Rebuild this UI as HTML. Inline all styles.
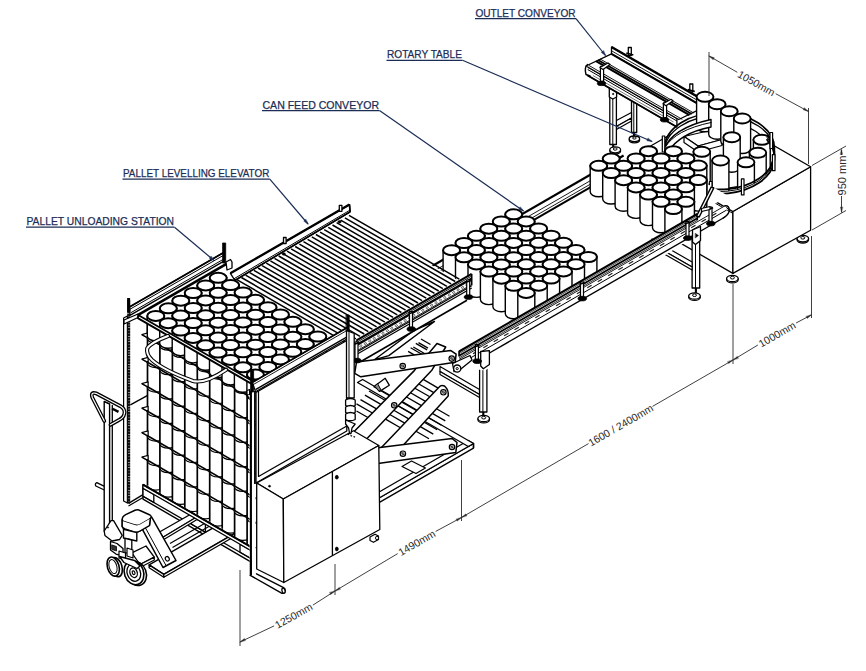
<!DOCTYPE html>
<html><head><meta charset="utf-8"><title>Depalletizer layout</title>
<style>html,body{margin:0;padding:0;background:#fff;}svg{display:block;font-family:"Liberation Sans",sans-serif;}</style></head>
<body>
<svg width="866" height="671" viewBox="0 0 866 671">
<rect width="866" height="671" fill="#fff"/>
<path d="M631.5,97 L636.7,97 L636.7,132.5 L631.5,132.5 Z" stroke="#000" stroke-width="1.3" fill="#fff" stroke-linejoin="round" stroke-linecap="round"/>
<path d="M633.8,97 L633.8,132.5" stroke="#000" stroke-width="1" fill="none"/>
<path d="M634,132.5 L634,137" stroke="#000" stroke-width="2.1" fill="none"/>
<ellipse cx="634.4" cy="140" rx="5.2" ry="2.8" stroke="#000" stroke-width="1.3" fill="#fff"/>
<ellipse cx="634.4" cy="138.8" rx="5.2" ry="2.8" stroke="#000" stroke-width="1.3" fill="#fff"/>
<ellipse cx="634.4" cy="138" rx="1.8" ry="1.1" stroke="#000" stroke-width="1" fill="#fff"/>
<path d="M616.4,120.5 L631.5,112.5 L631.5,118 L616.4,126.5 Z" stroke="#000" stroke-width="1.2" fill="#fff" stroke-linejoin="round" stroke-linecap="round"/>
<path d="M616.4,126.5 L631.5,118 L631.5,121 L616.4,129.5 Z" stroke="#000" stroke-width="1.2" fill="#fff" stroke-linejoin="round" stroke-linecap="round"/>
<path d="M609.8,84 L616.4,84 L616.4,144.5 L609.8,144.5 Z" stroke="#000" stroke-width="1.3" fill="#fff" stroke-linejoin="round" stroke-linecap="round"/>
<path d="M612.8,84 L612.8,144.5" stroke="#000" stroke-width="1" fill="none"/>
<path d="M613.2,144.5 L613.2,148" stroke="#000" stroke-width="2.1" fill="none"/>
<ellipse cx="615.2" cy="151" rx="5.4" ry="3" stroke="#000" stroke-width="1.3" fill="#fff"/>
<ellipse cx="615.2" cy="149.8" rx="5.4" ry="3" stroke="#000" stroke-width="1.3" fill="#fff"/>
<ellipse cx="615.2" cy="149" rx="1.9" ry="1.2" stroke="#000" stroke-width="1" fill="#fff"/>
<path d="M609.3,83 L616.6,85.5 L616.6,97 L612.8,99 L609.3,97 Z" stroke="#000" stroke-width="1.3" fill="#fff" stroke-linejoin="round" stroke-linecap="round"/>
<ellipse cx="613.2" cy="94" rx="0.7" ry="0.7" stroke="#000" stroke-width="0.7" fill="#000"/>
<path d="M587.7,67 L676.9,118.5 L676.9,127 L587.7,75.5 Z" stroke="#000" stroke-width="1.3" fill="#fff" stroke-linejoin="round" stroke-linecap="round"/>
<path d="M587.5,64.5 Q584,67 586,74.5 L590,76" stroke="#000" stroke-width="1.4" fill="#fff" stroke-linejoin="round" stroke-linecap="round"/>
<path d="M586,66 L611.5,53.8 L704.2,107.2 L678.7,119.5 Z" stroke="#000" stroke-width="1.3" fill="#fff" stroke-linejoin="round" stroke-linecap="round"/>
<path d="M588.8,65.4 L682.3,119.4" stroke="#000" stroke-width="0.9" fill="none"/>
<path d="M596,61.2 L689.5,115.2" stroke="#000" stroke-width="2" fill="none"/>
<path d="M598.1,60 L691.7,114" stroke="#000" stroke-width="1.8" fill="none"/>
<path d="M600,58.9 L693.6,112.9" stroke="#000" stroke-width="0.9" fill="none"/>
<path d="M611.5,53.8 L611.5,47 L700.7,98.5 L700.7,105.2 Z" stroke="#000" stroke-width="1.3" fill="#fff" stroke-linejoin="round" stroke-linecap="round"/>
<path d="M611.5,47 L700.7,98.5" stroke="#000" stroke-width="2.5" fill="none"/>
<path d="M611.5,50.8 L700.7,102.2" stroke="#000" stroke-width="0.9" fill="none"/>
<path d="M611.4,53.9 L700.6,105.4" stroke="#000" stroke-width="2.1" fill="none"/>
<path d="M587.7,69.5 L676.9,121" stroke="#000" stroke-width="1" fill="none"/>
<path d="M587.7,75.5 L676.9,127" stroke="#000" stroke-width="1.8" fill="none"/>
<path d="M592.9,75.5 L673.5,122" stroke="#555" stroke-width="0.8" fill="none"/>
<path d="M600.4,66.4 L603.6,66.4 L603.6,81.4 L600.4,81.4 Z" stroke="#000" stroke-width="1.2" fill="#fff" stroke-linejoin="round" stroke-linecap="round"/>
<ellipse cx="601.5" cy="83.4" rx="4.2" ry="2.2" stroke="#000" stroke-width="0.8" fill="#000"/>
<path d="M600,67.4 L608,62.9 L610,64.4 L603,69.4 Z" stroke="#000" stroke-width="1.2" fill="#fff" stroke-linejoin="round" stroke-linecap="round"/>
<path d="M663.4,102.8 L666.6,102.8 L666.6,117.8 L663.4,117.8 Z" stroke="#000" stroke-width="1.2" fill="#fff" stroke-linejoin="round" stroke-linecap="round"/>
<ellipse cx="664.5" cy="119.8" rx="4.2" ry="2.2" stroke="#000" stroke-width="0.8" fill="#000"/>
<path d="M663,103.8 L671,99.3 L673,100.8 L666,105.8 Z" stroke="#000" stroke-width="1.2" fill="#fff" stroke-linejoin="round" stroke-linecap="round"/>
<path d="M628.3,47.5 L631.3,47.5 L631.3,55.5 L628.3,55.5 Z" stroke="#000" stroke-width="1.3" fill="#fff" stroke-linejoin="round" stroke-linecap="round"/>
<path d="M626.3,53 L633.3,55" stroke="#000" stroke-width="1.8" fill="none"/>
<path d="M689.8,84 L692.8,84 L692.8,92 L689.8,92 Z" stroke="#000" stroke-width="1.3" fill="#fff" stroke-linejoin="round" stroke-linecap="round"/>
<path d="M687.8,89.5 L694.8,91.5" stroke="#000" stroke-width="1.8" fill="none"/>
<ellipse cx="802.8" cy="239.8" rx="5.8" ry="3.2" stroke="#000" stroke-width="1.3" fill="#fff"/>
<ellipse cx="802.8" cy="238.6" rx="5.8" ry="3.2" stroke="#000" stroke-width="1.3" fill="#fff"/>
<ellipse cx="802.8" cy="237.8" rx="2" ry="1.3" stroke="#000" stroke-width="1" fill="#fff"/>
<ellipse cx="732.4" cy="279.7" rx="5.8" ry="3.2" stroke="#000" stroke-width="1.3" fill="#fff"/>
<ellipse cx="732.4" cy="278.5" rx="5.8" ry="3.2" stroke="#000" stroke-width="1.3" fill="#fff"/>
<ellipse cx="732.4" cy="277.7" rx="2" ry="1.3" stroke="#000" stroke-width="1" fill="#fff"/>
<path d="M635,155 L732.9,211.5 L732.9,273.4 L635,216.9 Z" stroke="#000" stroke-width="1.3" fill="#fff" stroke-linejoin="round" stroke-linecap="round"/>
<path d="M732.9,211.5 L810.6,166.7 L810.6,230.2 L732.9,273.4 Z" stroke="#000" stroke-width="1.3" fill="#fff" stroke-linejoin="round" stroke-linecap="round"/>
<path d="M635,155 L712.7,110.2 L810.6,166.7 L732.9,211.5 Z" stroke="#000" stroke-width="1.3" fill="#fff" stroke-linejoin="round" stroke-linecap="round"/>
<path d="M732.9,213.4 L698.3,193.4" stroke="#000" stroke-width="1" fill="none"/>
<ellipse cx="719.5" cy="148.5" rx="55" ry="36" stroke="#000" stroke-width="1.6" fill="none"/>
<ellipse cx="719.5" cy="151.5" rx="55" ry="36" stroke="#000" stroke-width="1.3" fill="#fff"/>
<ellipse cx="719.5" cy="155" rx="51" ry="33.5" stroke="#000" stroke-width="1.2" fill="#fff"/>
<path d="M684,136.5 L707.5,131 L722,139.5 L698,146 Z" stroke="#000" stroke-width="1.2" fill="#fff" stroke-linejoin="round" stroke-linecap="round"/>
<path d="M684,136.5 L698,146 L698,152 L684,142.5 Z" stroke="#000" stroke-width="1.2" fill="#fff" stroke-linejoin="round" stroke-linecap="round"/>
<path d="M698,146 L722,139.5 L722,145.5 L698,152 Z" stroke="#000" stroke-width="1.2" fill="#fff" stroke-linejoin="round" stroke-linecap="round"/>
<clipPath id="rc"><rect x="600" y="0" width="266" height="153"/><ellipse cx="719.5" cy="155.5" rx="55" ry="36"/></clipPath><g clip-path="url(#rc)">
<path d="M696.6,96.8 L696.6,126.8 A8.4,5 0 0 0 713.4,126.8 L713.4,96.8 Z" stroke="#000" stroke-width="1.4" fill="#fff"/>
<ellipse cx="705" cy="96.8" rx="8.4" ry="5" stroke="#000" stroke-width="1.9" fill="#fff"/>
<path d="M708.7,104.2 L708.7,134.2 A8.4,5 0 0 0 725.5,134.2 L725.5,104.2 Z" stroke="#000" stroke-width="1.4" fill="#fff"/>
<ellipse cx="717.1" cy="104.2" rx="8.4" ry="5" stroke="#000" stroke-width="1.9" fill="#fff"/>
<path d="M720.8,111.2 L720.8,141.2 A8.4,5 0 0 0 737.6,141.2 L737.6,111.2 Z" stroke="#000" stroke-width="1.4" fill="#fff"/>
<ellipse cx="729.2" cy="111.2" rx="8.4" ry="5" stroke="#000" stroke-width="1.9" fill="#fff"/>
<path d="M733.8,118.5 L733.8,148.5 A8.4,5 0 0 0 750.6,148.5 L750.6,118.5 Z" stroke="#000" stroke-width="1.4" fill="#fff"/>
<ellipse cx="742.2" cy="118.5" rx="8.4" ry="5" stroke="#000" stroke-width="1.9" fill="#fff"/>
<path d="M723.4,137.2 L723.4,167.2 A8.4,5 0 0 0 740.2,167.2 L740.2,137.2 Z" stroke="#000" stroke-width="1.4" fill="#fff"/>
<ellipse cx="731.8" cy="137.2" rx="8.4" ry="5" stroke="#000" stroke-width="1.9" fill="#fff"/>
<path d="M753.4,139.8 L753.4,169.8 A8.4,5 0 0 0 770.2,169.8 L770.2,139.8 Z" stroke="#000" stroke-width="1.4" fill="#fff"/>
<ellipse cx="761.8" cy="139.8" rx="8.4" ry="5" stroke="#000" stroke-width="1.9" fill="#fff"/>
<path d="M693.4,151.8 L693.4,181.8 A8.4,5 0 0 0 710.2,181.8 L710.2,151.8 Z" stroke="#000" stroke-width="1.4" fill="#fff"/>
<ellipse cx="701.8" cy="151.8" rx="8.4" ry="5" stroke="#000" stroke-width="1.9" fill="#fff"/>
<path d="M749.4,152.8 L749.4,182.8 A8.4,5 0 0 0 766.2,182.8 L766.2,152.8 Z" stroke="#000" stroke-width="1.4" fill="#fff"/>
<ellipse cx="757.8" cy="152.8" rx="8.4" ry="5" stroke="#000" stroke-width="1.9" fill="#fff"/>
<path d="M712.1,160.5 L712.1,190.5 A8.4,5 0 0 0 728.9,190.5 L728.9,160.5 Z" stroke="#000" stroke-width="1.4" fill="#fff"/>
<ellipse cx="720.5" cy="160.5" rx="8.4" ry="5" stroke="#000" stroke-width="1.9" fill="#fff"/>
<path d="M737.6,162.3 L737.6,192.3 A8.4,5 0 0 0 754.4,192.3 L754.4,162.3 Z" stroke="#000" stroke-width="1.4" fill="#fff"/>
<ellipse cx="746" cy="162.3" rx="8.4" ry="5" stroke="#000" stroke-width="1.9" fill="#fff"/>
</g>
<path d="M767.1,135.5 A55.0,36.0 0 0 1 693.7,185.3" stroke="#000" stroke-width="1.8" fill="none" stroke-linejoin="round" stroke-linecap="round"/>
<path d="M767.1,137.6 A55.0,36.0 0 0 1 693.7,187.4" stroke="#000" stroke-width="1" fill="none" stroke-linejoin="round" stroke-linecap="round"/>
<path d="M767.1,139.8 A55.0,36.0 0 0 1 693.7,189.6" stroke="#000" stroke-width="1.8" fill="none" stroke-linejoin="round" stroke-linecap="round"/>
<path d="M770,132.5 L772.6,132.5 L772.6,148.5 L770,148.5 Z" stroke="#000" stroke-width="1.2" fill="#fff" stroke-linejoin="round" stroke-linecap="round"/>
<path d="M772.4,154.7 L775,154.7 L775,170.7 L772.4,170.7 Z" stroke="#000" stroke-width="1.2" fill="#fff" stroke-linejoin="round" stroke-linecap="round"/>
<path d="M741.4,178.9 L744,178.9 L744,194.9 L741.4,194.9 Z" stroke="#000" stroke-width="1.2" fill="#fff" stroke-linejoin="round" stroke-linecap="round"/>
<path d="M709.4,181.5 L712,181.5 L712,197.5 L709.4,197.5 Z" stroke="#000" stroke-width="1.2" fill="#fff" stroke-linejoin="round" stroke-linecap="round"/>
<path d="M663.5,150 Q672,128 711,119.5 L711,127 Q680,133 668,152 Z" stroke="#000" stroke-width="1.4" fill="#fff" stroke-linejoin="round" stroke-linecap="round"/>
<path d="M665.5,147 Q675,130 711,122.5" stroke="#000" stroke-width="1" fill="none" stroke-linejoin="round" stroke-linecap="round"/>
<path d="M662.3,136 L664.8,136 L664.8,152 L662.3,152 Z" stroke="#000" stroke-width="1.2" fill="#fff" stroke-linejoin="round" stroke-linecap="round"/>
<path d="M371.6,301 L641,145.5 L728.4,196 L459.1,351.5 Z" stroke="none" stroke-width="0" fill="#fff" stroke-linejoin="round" stroke-linecap="round"/>
<path d="M425.3,270 L623.6,155.5" stroke="#000" stroke-width="2.2" fill="none"/>
<path d="M425.3,276 L623.6,161.5" stroke="#000" stroke-width="0.9" fill="none"/>
<path d="M425.3,279.5 L623.6,165" stroke="#000" stroke-width="0.9" fill="none"/>
<path d="M435.7,276.6 L623.6,168.1" stroke="#000" stroke-width="2.1" fill="none"/>
<path d="M505.2,214.3 L505.2,242.3 A8.5,5 0 0 0 522.2,242.3 L522.2,214.3 Z" stroke="#000" stroke-width="1.4" fill="#fff"/>
<ellipse cx="513.7" cy="214.3" rx="8.5" ry="5" stroke="#000" stroke-width="2" fill="#fff"/>
<path d="M517.7,221.4 L517.7,249.4 A8.5,5 0 0 0 534.7,249.4 L534.7,221.4 Z" stroke="#000" stroke-width="1.4" fill="#fff"/>
<ellipse cx="526.2" cy="221.4" rx="8.5" ry="5" stroke="#000" stroke-width="2" fill="#fff"/>
<path d="M492.8,221.5 L492.8,249.5 A8.5,5 0 0 0 509.8,249.5 L509.8,221.5 Z" stroke="#000" stroke-width="1.4" fill="#fff"/>
<ellipse cx="501.3" cy="221.5" rx="8.5" ry="5" stroke="#000" stroke-width="2" fill="#fff"/>
<path d="M530.1,228.5 L530.1,256.5 A8.5,5 0 0 0 547.1,256.5 L547.1,228.5 Z" stroke="#000" stroke-width="1.4" fill="#fff"/>
<ellipse cx="538.6" cy="228.5" rx="8.5" ry="5" stroke="#000" stroke-width="2" fill="#fff"/>
<path d="M505.2,228.6 L505.2,256.6 A8.5,5 0 0 0 522.2,256.6 L522.2,228.6 Z" stroke="#000" stroke-width="1.4" fill="#fff"/>
<ellipse cx="513.7" cy="228.6" rx="8.5" ry="5" stroke="#000" stroke-width="2" fill="#fff"/>
<path d="M480.3,228.7 L480.3,256.7 A8.5,5 0 0 0 497.3,256.7 L497.3,228.7 Z" stroke="#000" stroke-width="1.4" fill="#fff"/>
<ellipse cx="488.8" cy="228.7" rx="8.5" ry="5" stroke="#000" stroke-width="2" fill="#fff"/>
<path d="M542.6,235.7 L542.6,263.7 A8.5,5 0 0 0 559.6,263.7 L559.6,235.7 Z" stroke="#000" stroke-width="1.4" fill="#fff"/>
<ellipse cx="551.1" cy="235.7" rx="8.5" ry="5" stroke="#000" stroke-width="2" fill="#fff"/>
<path d="M517.7,235.7 L517.7,263.7 A8.5,5 0 0 0 534.7,263.7 L534.7,235.7 Z" stroke="#000" stroke-width="1.4" fill="#fff"/>
<ellipse cx="526.2" cy="235.7" rx="8.5" ry="5" stroke="#000" stroke-width="2" fill="#fff"/>
<path d="M492.8,235.8 L492.8,263.8 A8.5,5 0 0 0 509.8,263.8 L509.8,235.8 Z" stroke="#000" stroke-width="1.4" fill="#fff"/>
<ellipse cx="501.3" cy="235.8" rx="8.5" ry="5" stroke="#000" stroke-width="2" fill="#fff"/>
<path d="M467.9,235.8 L467.9,263.8 A8.5,5 0 0 0 484.9,263.8 L484.9,235.8 Z" stroke="#000" stroke-width="1.4" fill="#fff"/>
<ellipse cx="476.4" cy="235.8" rx="8.5" ry="5" stroke="#000" stroke-width="2" fill="#fff"/>
<path d="M555,242.8 L555,270.8 A8.5,5 0 0 0 572,270.8 L572,242.8 Z" stroke="#000" stroke-width="1.4" fill="#fff"/>
<ellipse cx="563.5" cy="242.8" rx="8.5" ry="5" stroke="#000" stroke-width="2" fill="#fff"/>
<path d="M530.1,242.8 L530.1,270.8 A8.5,5 0 0 0 547.1,270.8 L547.1,242.8 Z" stroke="#000" stroke-width="1.4" fill="#fff"/>
<ellipse cx="538.6" cy="242.8" rx="8.5" ry="5" stroke="#000" stroke-width="2" fill="#fff"/>
<path d="M505.2,242.9 L505.2,270.9 A8.5,5 0 0 0 522.2,270.9 L522.2,242.9 Z" stroke="#000" stroke-width="1.4" fill="#fff"/>
<ellipse cx="513.7" cy="242.9" rx="8.5" ry="5" stroke="#000" stroke-width="2" fill="#fff"/>
<path d="M480.4,243 L480.4,271 A8.5,5 0 0 0 497.4,271 L497.4,243 Z" stroke="#000" stroke-width="1.4" fill="#fff"/>
<ellipse cx="488.9" cy="243" rx="8.5" ry="5" stroke="#000" stroke-width="2" fill="#fff"/>
<path d="M455.5,243 L455.5,271 A8.5,5 0 0 0 472.5,271 L472.5,243 Z" stroke="#000" stroke-width="1.4" fill="#fff"/>
<ellipse cx="464" cy="243" rx="8.5" ry="5" stroke="#000" stroke-width="2" fill="#fff"/>
<path d="M567.5,249.9 L567.5,277.9 A8.5,5 0 0 0 584.5,277.9 L584.5,249.9 Z" stroke="#000" stroke-width="1.4" fill="#fff"/>
<ellipse cx="576" cy="249.9" rx="8.5" ry="5" stroke="#000" stroke-width="2" fill="#fff"/>
<path d="M542.6,250 L542.6,278 A8.5,5 0 0 0 559.6,278 L559.6,250 Z" stroke="#000" stroke-width="1.4" fill="#fff"/>
<ellipse cx="551.1" cy="250" rx="8.5" ry="5" stroke="#000" stroke-width="2" fill="#fff"/>
<path d="M517.7,250 L517.7,278 A8.5,5 0 0 0 534.7,278 L534.7,250 Z" stroke="#000" stroke-width="1.4" fill="#fff"/>
<ellipse cx="526.2" cy="250" rx="8.5" ry="5" stroke="#000" stroke-width="2" fill="#fff"/>
<path d="M492.8,250.1 L492.8,278.1 A8.5,5 0 0 0 509.8,278.1 L509.8,250.1 Z" stroke="#000" stroke-width="1.4" fill="#fff"/>
<ellipse cx="501.3" cy="250.1" rx="8.5" ry="5" stroke="#000" stroke-width="2" fill="#fff"/>
<path d="M467.9,250.1 L467.9,278.1 A8.5,5 0 0 0 484.9,278.1 L484.9,250.1 Z" stroke="#000" stroke-width="1.4" fill="#fff"/>
<ellipse cx="476.4" cy="250.1" rx="8.5" ry="5" stroke="#000" stroke-width="2" fill="#fff"/>
<path d="M443.1,250.2 L443.1,278.2 A8.5,5 0 0 0 460.1,278.2 L460.1,250.2 Z" stroke="#000" stroke-width="1.4" fill="#fff"/>
<ellipse cx="451.6" cy="250.2" rx="8.5" ry="5" stroke="#000" stroke-width="2" fill="#fff"/>
<path d="M579.9,257 L579.9,285 A8.5,5 0 0 0 596.9,285 L596.9,257 Z" stroke="#000" stroke-width="1.4" fill="#fff"/>
<ellipse cx="588.4" cy="257" rx="8.5" ry="5" stroke="#000" stroke-width="2" fill="#fff"/>
<path d="M555,257.1 L555,285.1 A8.5,5 0 0 0 572,285.1 L572,257.1 Z" stroke="#000" stroke-width="1.4" fill="#fff"/>
<ellipse cx="563.5" cy="257.1" rx="8.5" ry="5" stroke="#000" stroke-width="2" fill="#fff"/>
<path d="M530.1,257.1 L530.1,285.1 A8.5,5 0 0 0 547.1,285.1 L547.1,257.1 Z" stroke="#000" stroke-width="1.4" fill="#fff"/>
<ellipse cx="538.6" cy="257.1" rx="8.5" ry="5" stroke="#000" stroke-width="2" fill="#fff"/>
<path d="M505.3,257.2 L505.3,285.2 A8.5,5 0 0 0 522.3,285.2 L522.3,257.2 Z" stroke="#000" stroke-width="1.4" fill="#fff"/>
<ellipse cx="513.8" cy="257.2" rx="8.5" ry="5" stroke="#000" stroke-width="2" fill="#fff"/>
<path d="M480.4,257.3 L480.4,285.3 A8.5,5 0 0 0 497.4,285.3 L497.4,257.3 Z" stroke="#000" stroke-width="1.4" fill="#fff"/>
<ellipse cx="488.9" cy="257.3" rx="8.5" ry="5" stroke="#000" stroke-width="2" fill="#fff"/>
<path d="M455.5,257.3 L455.5,285.3 A8.5,5 0 0 0 472.5,285.3 L472.5,257.3 Z" stroke="#000" stroke-width="1.4" fill="#fff"/>
<ellipse cx="464" cy="257.3" rx="8.5" ry="5" stroke="#000" stroke-width="2" fill="#fff"/>
<path d="M567.5,264.2 L567.5,292.2 A8.5,5 0 0 0 584.5,292.2 L584.5,264.2 Z" stroke="#000" stroke-width="1.4" fill="#fff"/>
<ellipse cx="576" cy="264.2" rx="8.5" ry="5" stroke="#000" stroke-width="2" fill="#fff"/>
<path d="M542.6,264.3 L542.6,292.3 A8.5,5 0 0 0 559.6,292.3 L559.6,264.3 Z" stroke="#000" stroke-width="1.4" fill="#fff"/>
<ellipse cx="551.1" cy="264.3" rx="8.5" ry="5" stroke="#000" stroke-width="2" fill="#fff"/>
<path d="M517.7,264.3 L517.7,292.3 A8.5,5 0 0 0 534.7,292.3 L534.7,264.3 Z" stroke="#000" stroke-width="1.4" fill="#fff"/>
<ellipse cx="526.2" cy="264.3" rx="8.5" ry="5" stroke="#000" stroke-width="2" fill="#fff"/>
<path d="M492.8,264.4 L492.8,292.4 A8.5,5 0 0 0 509.8,292.4 L509.8,264.4 Z" stroke="#000" stroke-width="1.4" fill="#fff"/>
<ellipse cx="501.3" cy="264.4" rx="8.5" ry="5" stroke="#000" stroke-width="2" fill="#fff"/>
<path d="M468,264.4 L468,292.4 A8.5,5 0 0 0 485,292.4 L485,264.4 Z" stroke="#000" stroke-width="1.4" fill="#fff"/>
<ellipse cx="476.5" cy="264.4" rx="8.5" ry="5" stroke="#000" stroke-width="2" fill="#fff"/>
<path d="M555,271.4 L555,299.4 A8.5,5 0 0 0 572,299.4 L572,271.4 Z" stroke="#000" stroke-width="1.4" fill="#fff"/>
<ellipse cx="563.5" cy="271.4" rx="8.5" ry="5" stroke="#000" stroke-width="2" fill="#fff"/>
<path d="M530.2,271.4 L530.2,299.4 A8.5,5 0 0 0 547.2,299.4 L547.2,271.4 Z" stroke="#000" stroke-width="1.4" fill="#fff"/>
<ellipse cx="538.7" cy="271.4" rx="8.5" ry="5" stroke="#000" stroke-width="2" fill="#fff"/>
<path d="M505.3,271.5 L505.3,299.5 A8.5,5 0 0 0 522.3,299.5 L522.3,271.5 Z" stroke="#000" stroke-width="1.4" fill="#fff"/>
<ellipse cx="513.8" cy="271.5" rx="8.5" ry="5" stroke="#000" stroke-width="2" fill="#fff"/>
<path d="M480.4,271.6 L480.4,299.6 A8.5,5 0 0 0 497.4,299.6 L497.4,271.6 Z" stroke="#000" stroke-width="1.4" fill="#fff"/>
<ellipse cx="488.9" cy="271.6" rx="8.5" ry="5" stroke="#000" stroke-width="2" fill="#fff"/>
<path d="M542.6,278.6 L542.6,306.6 A8.5,5 0 0 0 559.6,306.6 L559.6,278.6 Z" stroke="#000" stroke-width="1.4" fill="#fff"/>
<ellipse cx="551.1" cy="278.6" rx="8.5" ry="5" stroke="#000" stroke-width="2" fill="#fff"/>
<path d="M517.7,278.6 L517.7,306.6 A8.5,5 0 0 0 534.7,306.6 L534.7,278.6 Z" stroke="#000" stroke-width="1.4" fill="#fff"/>
<ellipse cx="526.2" cy="278.6" rx="8.5" ry="5" stroke="#000" stroke-width="2" fill="#fff"/>
<path d="M492.9,278.7 L492.9,306.7 A8.5,5 0 0 0 509.9,306.7 L509.9,278.7 Z" stroke="#000" stroke-width="1.4" fill="#fff"/>
<ellipse cx="501.4" cy="278.7" rx="8.5" ry="5" stroke="#000" stroke-width="2" fill="#fff"/>
<path d="M530.2,285.7 L530.2,313.7 A8.5,5 0 0 0 547.2,313.7 L547.2,285.7 Z" stroke="#000" stroke-width="1.4" fill="#fff"/>
<ellipse cx="538.7" cy="285.7" rx="8.5" ry="5" stroke="#000" stroke-width="2" fill="#fff"/>
<path d="M505.3,285.8 L505.3,313.8 A8.5,5 0 0 0 522.3,313.8 L522.3,285.8 Z" stroke="#000" stroke-width="1.4" fill="#fff"/>
<ellipse cx="513.8" cy="285.8" rx="8.5" ry="5" stroke="#000" stroke-width="2" fill="#fff"/>
<path d="M517.8,292.9 L517.8,320.9 A8.5,5 0 0 0 534.8,320.9 L534.8,292.9 Z" stroke="#000" stroke-width="1.4" fill="#fff"/>
<ellipse cx="526.2" cy="292.9" rx="8.5" ry="5" stroke="#000" stroke-width="2" fill="#fff"/>
<path d="M664.9,151.2 L664.9,177.2 A8.5,5 0 0 0 681.9,177.2 L681.9,151.2 Z" stroke="#000" stroke-width="1.4" fill="#fff"/>
<ellipse cx="673.4" cy="151.2" rx="8.5" ry="5" stroke="#000" stroke-width="2" fill="#fff"/>
<path d="M640,151.2 L640,177.2 A8.5,5 0 0 0 657,177.2 L657,151.2 Z" stroke="#000" stroke-width="1.4" fill="#fff"/>
<ellipse cx="648.5" cy="151.2" rx="8.5" ry="5" stroke="#000" stroke-width="2" fill="#fff"/>
<path d="M677.4,158.4 L677.4,184.4 A8.5,5 0 0 0 694.4,184.4 L694.4,158.4 Z" stroke="#000" stroke-width="1.4" fill="#fff"/>
<ellipse cx="685.9" cy="158.4" rx="8.5" ry="5" stroke="#000" stroke-width="2" fill="#fff"/>
<path d="M652.5,158.5 L652.5,184.5 A8.5,5 0 0 0 669.5,184.5 L669.5,158.5 Z" stroke="#000" stroke-width="1.4" fill="#fff"/>
<ellipse cx="661" cy="158.5" rx="8.5" ry="5" stroke="#000" stroke-width="2" fill="#fff"/>
<path d="M627.6,158.5 L627.6,184.5 A8.5,5 0 0 0 644.6,184.5 L644.6,158.5 Z" stroke="#000" stroke-width="1.4" fill="#fff"/>
<ellipse cx="636.1" cy="158.5" rx="8.5" ry="5" stroke="#000" stroke-width="2" fill="#fff"/>
<path d="M602.7,158.6 L602.7,184.6 A8.5,5 0 0 0 619.7,184.6 L619.7,158.6 Z" stroke="#000" stroke-width="1.4" fill="#fff"/>
<ellipse cx="611.2" cy="158.6" rx="8.5" ry="5" stroke="#000" stroke-width="2" fill="#fff"/>
<path d="M689.8,165.6 L689.8,191.6 A8.5,5 0 0 0 706.8,191.6 L706.8,165.6 Z" stroke="#000" stroke-width="1.4" fill="#fff"/>
<ellipse cx="698.3" cy="165.6" rx="8.5" ry="5" stroke="#000" stroke-width="2" fill="#fff"/>
<path d="M664.9,165.7 L664.9,191.7 A8.5,5 0 0 0 681.9,191.7 L681.9,165.7 Z" stroke="#000" stroke-width="1.4" fill="#fff"/>
<ellipse cx="673.4" cy="165.7" rx="8.5" ry="5" stroke="#000" stroke-width="2" fill="#fff"/>
<path d="M640,165.7 L640,191.7 A8.5,5 0 0 0 657,191.7 L657,165.7 Z" stroke="#000" stroke-width="1.4" fill="#fff"/>
<ellipse cx="648.5" cy="165.7" rx="8.5" ry="5" stroke="#000" stroke-width="2" fill="#fff"/>
<path d="M615.1,165.8 L615.1,191.8 A8.5,5 0 0 0 632.1,191.8 L632.1,165.8 Z" stroke="#000" stroke-width="1.4" fill="#fff"/>
<ellipse cx="623.6" cy="165.8" rx="8.5" ry="5" stroke="#000" stroke-width="2" fill="#fff"/>
<path d="M590.2,165.8 L590.2,191.8 A8.5,5 0 0 0 607.2,191.8 L607.2,165.8 Z" stroke="#000" stroke-width="1.4" fill="#fff"/>
<ellipse cx="598.7" cy="165.8" rx="8.5" ry="5" stroke="#000" stroke-width="2" fill="#fff"/>
<path d="M677.4,172.9 L677.4,198.9 A8.5,5 0 0 0 694.4,198.9 L694.4,172.9 Z" stroke="#000" stroke-width="1.4" fill="#fff"/>
<ellipse cx="685.9" cy="172.9" rx="8.5" ry="5" stroke="#000" stroke-width="2" fill="#fff"/>
<path d="M652.5,172.9 L652.5,198.9 A8.5,5 0 0 0 669.5,198.9 L669.5,172.9 Z" stroke="#000" stroke-width="1.4" fill="#fff"/>
<ellipse cx="661" cy="172.9" rx="8.5" ry="5" stroke="#000" stroke-width="2" fill="#fff"/>
<path d="M627.6,173 L627.6,199 A8.5,5 0 0 0 644.6,199 L644.6,173 Z" stroke="#000" stroke-width="1.4" fill="#fff"/>
<ellipse cx="636.1" cy="173" rx="8.5" ry="5" stroke="#000" stroke-width="2" fill="#fff"/>
<path d="M602.7,173 L602.7,199 A8.5,5 0 0 0 619.7,199 L619.7,173 Z" stroke="#000" stroke-width="1.4" fill="#fff"/>
<ellipse cx="611.2" cy="173" rx="8.5" ry="5" stroke="#000" stroke-width="2" fill="#fff"/>
<path d="M689.8,180.1 L689.8,206.1 A8.5,5 0 0 0 706.8,206.1 L706.8,180.1 Z" stroke="#000" stroke-width="1.4" fill="#fff"/>
<ellipse cx="698.3" cy="180.1" rx="8.5" ry="5" stroke="#000" stroke-width="2" fill="#fff"/>
<path d="M664.9,180.1 L664.9,206.1 A8.5,5 0 0 0 681.9,206.1 L681.9,180.1 Z" stroke="#000" stroke-width="1.4" fill="#fff"/>
<ellipse cx="673.4" cy="180.1" rx="8.5" ry="5" stroke="#000" stroke-width="2" fill="#fff"/>
<path d="M640,180.2 L640,206.2 A8.5,5 0 0 0 657,206.2 L657,180.2 Z" stroke="#000" stroke-width="1.4" fill="#fff"/>
<ellipse cx="648.5" cy="180.2" rx="8.5" ry="5" stroke="#000" stroke-width="2" fill="#fff"/>
<path d="M615.1,180.2 L615.1,206.2 A8.5,5 0 0 0 632.1,206.2 L632.1,180.2 Z" stroke="#000" stroke-width="1.4" fill="#fff"/>
<ellipse cx="623.6" cy="180.2" rx="8.5" ry="5" stroke="#000" stroke-width="2" fill="#fff"/>
<path d="M677.4,187.3 L677.4,213.3 A8.5,5 0 0 0 694.4,213.3 L694.4,187.3 Z" stroke="#000" stroke-width="1.4" fill="#fff"/>
<ellipse cx="685.9" cy="187.3" rx="8.5" ry="5" stroke="#000" stroke-width="2" fill="#fff"/>
<path d="M652.5,187.4 L652.5,213.4 A8.5,5 0 0 0 669.5,213.4 L669.5,187.4 Z" stroke="#000" stroke-width="1.4" fill="#fff"/>
<ellipse cx="661" cy="187.4" rx="8.5" ry="5" stroke="#000" stroke-width="2" fill="#fff"/>
<path d="M627.6,187.4 L627.6,213.4 A8.5,5 0 0 0 644.6,213.4 L644.6,187.4 Z" stroke="#000" stroke-width="1.4" fill="#fff"/>
<ellipse cx="636.1" cy="187.4" rx="8.5" ry="5" stroke="#000" stroke-width="2" fill="#fff"/>
<path d="M664.9,194.6 L664.9,220.6 A8.5,5 0 0 0 681.9,220.6 L681.9,194.6 Z" stroke="#000" stroke-width="1.4" fill="#fff"/>
<ellipse cx="673.4" cy="194.6" rx="8.5" ry="5" stroke="#000" stroke-width="2" fill="#fff"/>
<path d="M640,194.6 L640,220.6 A8.5,5 0 0 0 657,220.6 L657,194.6 Z" stroke="#000" stroke-width="1.4" fill="#fff"/>
<ellipse cx="648.5" cy="194.6" rx="8.5" ry="5" stroke="#000" stroke-width="2" fill="#fff"/>
<path d="M677.4,201.8 L677.4,227.8 A8.5,5 0 0 0 694.4,227.8 L694.4,201.8 Z" stroke="#000" stroke-width="1.4" fill="#fff"/>
<ellipse cx="685.9" cy="201.8" rx="8.5" ry="5" stroke="#000" stroke-width="2" fill="#fff"/>
<path d="M652.5,201.8 L652.5,227.8 A8.5,5 0 0 0 669.5,227.8 L669.5,201.8 Z" stroke="#000" stroke-width="1.4" fill="#fff"/>
<ellipse cx="661" cy="201.8" rx="8.5" ry="5" stroke="#000" stroke-width="2" fill="#fff"/>
<path d="M664.9,209 L664.9,235 A8.5,5 0 0 0 681.9,235 L681.9,209 Z" stroke="#000" stroke-width="1.4" fill="#fff"/>
<ellipse cx="673.4" cy="209" rx="8.5" ry="5" stroke="#000" stroke-width="2" fill="#fff"/>
<path d="M440,366.5 L479.5,389.5 L479.5,394.5 L440,371.5 Z" stroke="#000" stroke-width="1.2" fill="#fff" stroke-linejoin="round" stroke-linecap="round"/>
<path d="M440,371.5 L479.5,394.5 L479.5,397.5 L440,374.5 Z" stroke="#000" stroke-width="1.2" fill="#fff" stroke-linejoin="round" stroke-linecap="round"/>
<path d="M479.6,353 L486.9,353 L486.9,412 L479.6,412 Z" stroke="#000" stroke-width="1.3" fill="#fff" stroke-linejoin="round" stroke-linecap="round"/>
<path d="M482.9,353 L482.9,412" stroke="#000" stroke-width="1" fill="none"/>
<path d="M483.3,412 L483.3,416" stroke="#000" stroke-width="2.1" fill="none"/>
<ellipse cx="483.7" cy="419.7" rx="5.8" ry="3.2" stroke="#000" stroke-width="1.3" fill="#fff"/>
<ellipse cx="483.7" cy="418.5" rx="5.8" ry="3.2" stroke="#000" stroke-width="1.3" fill="#fff"/>
<ellipse cx="483.7" cy="417.7" rx="2" ry="1.3" stroke="#000" stroke-width="1" fill="#fff"/>
<path d="M692.1,229 L699.7,229 L699.7,288 L692.1,288 Z" stroke="#000" stroke-width="1.3" fill="#fff" stroke-linejoin="round" stroke-linecap="round"/>
<path d="M695.5,229 L695.5,288" stroke="#000" stroke-width="1" fill="none"/>
<path d="M695.9,288 L695.9,293" stroke="#000" stroke-width="2.1" fill="none"/>
<ellipse cx="694.5" cy="297.2" rx="5.8" ry="3.2" stroke="#000" stroke-width="1.3" fill="#fff"/>
<ellipse cx="694.5" cy="296" rx="5.8" ry="3.2" stroke="#000" stroke-width="1.3" fill="#fff"/>
<ellipse cx="694.5" cy="295.2" rx="2" ry="1.3" stroke="#000" stroke-width="1" fill="#fff"/>
<path d="M692.1,262 L652,239 L652,244 L692.1,267 Z" stroke="#000" stroke-width="1.2" fill="#fff" stroke-linejoin="round" stroke-linecap="round"/>
<path d="M692.1,267 L652,244 L652,247 L692.1,270 Z" stroke="#000" stroke-width="1.2" fill="#fff" stroke-linejoin="round" stroke-linecap="round"/>
<path d="M459.1,351.5 L697.3,214 L697.3,221.8 L725,205.8 L727.6,209.5 L723.2,218 L485.1,370.5 L455.1,366.5 Z" stroke="none" stroke-width="0" fill="#fff" stroke-linejoin="round" stroke-linecap="round"/>
<path d="M459.1,351.5 L697.3,214" stroke="#000" stroke-width="2.1" fill="none"/>
<path d="M459.1,353.6 L697.3,216.1" stroke="#000" stroke-width="0.7" fill="none"/>
<path d="M459.1,355.7 L697.3,218.2" stroke="#000" stroke-width="1.8" fill="none"/>
<path d="M459.1,357.8 L697.3,220.3" stroke="#000" stroke-width="0.8" fill="none"/>
<path d="M459.1,359.3 L725,205.8" stroke="#000" stroke-width="0.9" fill="none"/>
<path d="M459.1,364.5 L726.7,210" stroke="#000" stroke-width="1" fill="none"/>
<path d="M487.7,354 L725,217" stroke="#000" stroke-width="1.4" fill="none"/>
<path d="M473,353.8 L477.3,351.3" stroke="#222" stroke-width="1.3" fill="none"/>
<path d="M483.3,347.8 L487.7,345.3" stroke="#222" stroke-width="1.3" fill="none"/>
<path d="M493.7,341.8 L498.1,339.3" stroke="#222" stroke-width="1.3" fill="none"/>
<path d="M504.1,335.8 L508.5,333.3" stroke="#222" stroke-width="1.3" fill="none"/>
<path d="M514.5,329.8 L518.9,327.3" stroke="#222" stroke-width="1.3" fill="none"/>
<path d="M524.9,323.8 L529.2,321.3" stroke="#222" stroke-width="1.3" fill="none"/>
<path d="M535.3,317.8 L539.6,315.3" stroke="#222" stroke-width="1.3" fill="none"/>
<path d="M545.7,311.8 L550,309.3" stroke="#222" stroke-width="1.3" fill="none"/>
<path d="M556.1,305.8 L560.4,303.3" stroke="#222" stroke-width="1.3" fill="none"/>
<path d="M566.5,299.8 L570.8,297.3" stroke="#222" stroke-width="1.3" fill="none"/>
<path d="M576.9,293.8 L581.2,291.3" stroke="#222" stroke-width="1.3" fill="none"/>
<path d="M587.3,287.8 L591.6,285.3" stroke="#222" stroke-width="1.3" fill="none"/>
<path d="M597.7,281.8 L602,279.3" stroke="#222" stroke-width="1.3" fill="none"/>
<path d="M608.1,275.8 L612.4,273.3" stroke="#222" stroke-width="1.3" fill="none"/>
<path d="M618.4,269.8 L622.8,267.3" stroke="#222" stroke-width="1.3" fill="none"/>
<path d="M628.8,263.8 L633.2,261.3" stroke="#222" stroke-width="1.3" fill="none"/>
<path d="M639.2,257.8 L643.6,255.3" stroke="#222" stroke-width="1.3" fill="none"/>
<path d="M649.6,251.8 L654,249.3" stroke="#222" stroke-width="1.3" fill="none"/>
<path d="M660,245.8 L664.3,243.3" stroke="#222" stroke-width="1.3" fill="none"/>
<path d="M670.4,239.8 L674.7,237.3" stroke="#222" stroke-width="1.3" fill="none"/>
<path d="M680.8,233.8 L685.1,231.3" stroke="#222" stroke-width="1.3" fill="none"/>
<path d="M691.2,227.8 L695.5,225.3" stroke="#222" stroke-width="1.3" fill="none"/>
<path d="M701.6,221.8 L705.9,219.3" stroke="#222" stroke-width="1.3" fill="none"/>
<path d="M712,215.8 L716.3,213.3" stroke="#222" stroke-width="1.3" fill="none"/>
<path d="M459.1,351 L459.1,356.5" stroke="#000" stroke-width="1.7" fill="none"/>
<path d="M452.5,363.5 L470,355.5 L472,360 L459,370.5 L454,371.5 Z" stroke="#000" stroke-width="1.3" fill="#fff" stroke-linejoin="round" stroke-linecap="round"/>
<ellipse cx="457.2" cy="368.6" rx="3.6" ry="3.6" stroke="#000" stroke-width="1.3" fill="#fff"/>
<ellipse cx="457.2" cy="368.6" rx="1.1" ry="1.1" stroke="#000" stroke-width="1" fill="#fff"/>
<path d="M697.3,214 L697.3,220.3" stroke="#000" stroke-width="1.6" fill="none"/>
<path d="M725.0,205.8 Q729.5,205.3 729.2,210.3 Q729.0,214.8 723.2,218.0" stroke="#000" stroke-width="1.4" fill="none" stroke-linejoin="round" stroke-linecap="round"/>
<path d="M480.7,351.5 L489.4,350.6 L489.4,364.5 L483.3,368.8 L480.7,366 Z" stroke="#000" stroke-width="1.3" fill="#fff" stroke-linejoin="round" stroke-linecap="round"/>
<path d="M692.5,230 L700.5,226.5 L700.5,240.5 L695.5,244.5 L692.5,242 Z" stroke="#000" stroke-width="1.3" fill="#fff" stroke-linejoin="round" stroke-linecap="round"/>
<path d="M695.5,233.5 L698.5,235.5 L695.5,237.8 Z" stroke="#000" stroke-width="0.5" fill="#000" stroke-linejoin="round" stroke-linecap="round"/>
<path d="M475.4,344.6 L478.4,344.6 L478.4,359.6 L475.4,359.6 Z" stroke="#000" stroke-width="1.2" fill="#fff" stroke-linejoin="round" stroke-linecap="round"/>
<ellipse cx="477.2" cy="361.2" rx="4.3" ry="2.3" stroke="#000" stroke-width="0.8" fill="#000"/>
<path d="M474.3,346.8 L479.5,345.4" stroke="#000" stroke-width="1.7" fill="none"/>
<path d="M580.5,282 L583.5,282 L583.5,297 L580.5,297 Z" stroke="#000" stroke-width="1.2" fill="#fff" stroke-linejoin="round" stroke-linecap="round"/>
<ellipse cx="582.3" cy="298.6" rx="4.3" ry="2.3" stroke="#000" stroke-width="0.8" fill="#000"/>
<path d="M579.4,284.2 L584.6,282.8" stroke="#000" stroke-width="1.7" fill="none"/>
<path d="M686,221.5 L689,221.5 L689,236.5 L686,236.5 Z" stroke="#000" stroke-width="1.2" fill="#fff" stroke-linejoin="round" stroke-linecap="round"/>
<ellipse cx="687.8" cy="238.1" rx="4.3" ry="2.3" stroke="#000" stroke-width="0.8" fill="#000"/>
<path d="M684.9,223.7 L690.1,222.3" stroke="#000" stroke-width="1.7" fill="none"/>
<path d="M709,207 L712,207 L712,222 L709,222 Z" stroke="#000" stroke-width="1.2" fill="#fff" stroke-linejoin="round" stroke-linecap="round"/>
<ellipse cx="710.8" cy="223.6" rx="4.3" ry="2.3" stroke="#000" stroke-width="0.8" fill="#000"/>
<path d="M707.9,209.2 L713.1,207.8" stroke="#000" stroke-width="1.7" fill="none"/>
<path d="M711.2,187 L713.8,188 L699.2,217 L696.6,216 Z" stroke="#000" stroke-width="1.5" fill="#fff" stroke-linejoin="round" stroke-linecap="round"/>
<path d="M701.5,208.5 L710,206.5 L710,209.5 L701.5,211.5 Z" stroke="#000" stroke-width="1.2" fill="#fff" stroke-linejoin="round" stroke-linecap="round"/>
<path d="M473.5,443.5 L365.2,506 L365.2,510.6 L473.5,448.1 Z" stroke="#000" stroke-width="1.4" fill="#fff" stroke-linejoin="round" stroke-linecap="round"/>
<path d="M473.5,443.5 L365.2,506 L360.1,503 L468.3,440.5 Z" stroke="#000" stroke-width="1.3" fill="#fff" stroke-linejoin="round" stroke-linecap="round"/>
<path d="M473.5,443.5 L362.6,379.5 L357.5,382.5 L468.3,446.5 Z" stroke="#000" stroke-width="1.3" fill="#fff" stroke-linejoin="round" stroke-linecap="round"/>
<path d="M473.5,443.5 L473.5,448.1" stroke="#000" stroke-width="1.4" fill="none"/>
<path d="M411.5,461 L425.4,468 L416,473.5 L402,466.5 Z" stroke="#000" stroke-width="1.2" fill="#fff" stroke-linejoin="round" stroke-linecap="round"/>
<path d="M423.2,379.4 L438.2,388.1M418.9,384 L433.8,392.6M414.9,388.2 L429.8,396.8M410.5,392.8 L425.5,401.4M406.5,397 L421.5,405.6M402.2,401.6 L417.1,410.2M398.2,405.8 L413.1,414.4M393.8,410.3 L408.7,418.9M389.8,414.5 L404.7,423.1M385.5,419.1 L400.4,427.7M373.5,386.5 L389.5,395.7M369,391 L385,400.2M364.9,395.1 L380.9,404.4M360.5,399.6 L376.5,408.9M356.5,403.9 L372.4,413M356.5,411 L367.9,417.5M421,339 L430.5,344.5M418.5,342.6 L428,348.1M415.8,343.4 L427.1,349.9M413.3,347 L424.5,353.5M410.6,347.8 L423.6,355.3M408.1,351.4 L421.1,358.9M436.5,408.8 L449.5,416.3M432.3,413.4 L445.3,420.9M428.4,417.7 L441.4,425.2M424.2,422.3 L437.1,429.8M420.3,426.6 L433.3,434.1M416,431.2 L429,438.7" stroke="#000" stroke-width="1.3" fill="none"/>
<path d="M439.2,387 L374.3,455 L394.3,455 L448.2,396 Q449,390 444.5,386 Q441,384.5 439.2,387 Z" stroke="#000" stroke-width="1.5" fill="#fff" stroke-linejoin="round" stroke-linecap="round"/>
<ellipse cx="443.4" cy="392.3" rx="2.7" ry="2.7" stroke="#000" stroke-width="1.2" fill="#fff"/>
<ellipse cx="443.4" cy="392.3" rx="1.1" ry="1.1" stroke="#000" stroke-width="0.7" fill="#fff"/>
<path d="M441.5,390.9 L445.3,393.7" stroke="#000" stroke-width="0.6" fill="none"/>
<path d="M437,343.5 L445.7,347 L431.6,370.6 L359,447 L345.5,440.2 L414.3,370.6 Z" stroke="#000" stroke-width="1.5" fill="#fff" stroke-linejoin="round" stroke-linecap="round"/>
<ellipse cx="394.2" cy="405.3" rx="2.7" ry="2.7" stroke="#000" stroke-width="1.2" fill="#fff"/>
<ellipse cx="394.2" cy="405.3" rx="1.1" ry="1.1" stroke="#000" stroke-width="0.7" fill="#fff"/>
<path d="M392.3,403.9 L396.1,406.7" stroke="#000" stroke-width="0.6" fill="none"/>
<path d="M434.5,321.5 L388.8,355.6 L374,360 L414.5,330 Z" stroke="#000" stroke-width="1.4" fill="#fff" stroke-linejoin="round" stroke-linecap="round"/>
<path d="M378,447.8 L452,438.4 L457,442.5 L455.8,452.4 L378,463.5 Z" stroke="#000" stroke-width="1.5" fill="#fff" stroke-linejoin="round" stroke-linecap="round"/>
<ellipse cx="402.9" cy="453.7" rx="2.7" ry="2.7" stroke="#000" stroke-width="1.2" fill="#fff"/>
<ellipse cx="402.9" cy="453.7" rx="1.1" ry="1.1" stroke="#000" stroke-width="0.7" fill="#fff"/>
<path d="M401,452.3 L404.8,455.1" stroke="#000" stroke-width="0.6" fill="none"/>
<ellipse cx="452" cy="447" rx="2.7" ry="2.7" stroke="#000" stroke-width="1.2" fill="#fff"/>
<ellipse cx="452" cy="447" rx="1.1" ry="1.1" stroke="#000" stroke-width="0.7" fill="#fff"/>
<path d="M450.1,445.6 L453.9,448.4" stroke="#000" stroke-width="0.6" fill="none"/>
<path d="M374.8,385.9 L385.2,378.3 L389.3,385.2 L379.6,391.4 Z" stroke="#000" stroke-width="1.3" fill="#fff" stroke-linejoin="round" stroke-linecap="round"/>
<path d="M374.8,385.9 L377.5,383.5 L380.5,389 L379.6,391.4 Z" stroke="#000" stroke-width="1" fill="#888" stroke-linejoin="round" stroke-linecap="round"/>
<path d="M356.5,362 L450.9,350.6 L456.1,354.2 L455.2,362.2 L360.8,376.8 L354.7,373.3 Z" stroke="#000" stroke-width="1.5" fill="#fff" stroke-linejoin="round" stroke-linecap="round"/>
<ellipse cx="402.7" cy="366" rx="2.7" ry="2.7" stroke="#000" stroke-width="1.2" fill="#fff"/>
<ellipse cx="402.7" cy="366" rx="1.1" ry="1.1" stroke="#000" stroke-width="0.7" fill="#fff"/>
<path d="M400.8,364.6 L404.6,367.4" stroke="#000" stroke-width="0.6" fill="none"/>
<ellipse cx="451.7" cy="358.6" rx="2.7" ry="2.7" stroke="#000" stroke-width="1.2" fill="#fff"/>
<ellipse cx="451.7" cy="358.6" rx="1.1" ry="1.1" stroke="#000" stroke-width="0.7" fill="#fff"/>
<path d="M449.8,357.2 L453.6,360" stroke="#000" stroke-width="0.6" fill="none"/>
<path d="M237.3,279.9 L349,217.5 L462.6,283 L471.6,276.3 L471.6,288 L467.5,300.5 L360.8,361.5 L355,359 L355,341 Z" stroke="none" stroke-width="0" fill="#fff" stroke-linejoin="round" stroke-linecap="round"/>
<path d="M237.3,279.9 L347.6,343.6M241.4,277.5 L351.8,341.2M245.6,275.1 L355.9,338.8M249.7,272.7 L360,336.4M253.9,270.3 L364.2,334M258,268 L368.3,331.7M262.1,265.6 L372.5,329.3M266.3,263.2 L376.6,326.9M270.4,260.8 L380.7,324.5M274.5,258.4 L384.9,322.1M278.7,256 L389,319.7M282.8,253.6 L393.1,317.3M287,251.2 L397.3,314.9M291.1,248.8 L401.4,312.5M295.2,246.5 L405.6,310.2M299.4,244.1 L409.7,307.8M303.5,241.7 L413.8,305.4M307.6,239.3 L418,303M311.8,236.9 L422.1,300.6M315.9,234.5 L426.2,298.2M320.1,232.1 L430.4,295.8M324.2,229.7 L434.5,293.4M328.3,227.3 L438.7,291M332.5,225 L442.8,288.7M336.6,222.6 L446.9,286.3M340.7,220.2 L451.1,283.9M344.9,217.8 L455.2,281.5M349,215.4 L459.3,279.1" stroke="#000" stroke-width="1.5" fill="none"/>
<path d="M230.4,273.3 L349.5,204.6 L350.1,211.9 L234.9,280.3 Z" stroke="#000" stroke-width="1.3" fill="#fff" stroke-linejoin="round" stroke-linecap="round"/>
<path d="M230.4,273.3 L349.5,204.6" stroke="#000" stroke-width="2.3" fill="none"/>
<path d="M233.8,278.9 L349.9,210.2" stroke="#000" stroke-width="1" fill="none"/>
<path d="M234.9,280.5 L350.1,211.9" stroke="#000" stroke-width="1.6" fill="none"/>
<path d="M349.5,204.6 L350.1,211.9" stroke="#000" stroke-width="1.7" fill="none"/>
<path d="M283.5,237.5 L286.1,237.5 L286.1,243.5 L283.5,243.5 Z" stroke="#000" stroke-width="1.3" fill="#fff" stroke-linejoin="round" stroke-linecap="round"/>
<ellipse cx="283.8" cy="254" rx="1.7" ry="1.2" stroke="#000" stroke-width="0.5" fill="#000"/>
<path d="M339.3,205.3 L341.9,205.3 L341.9,211.3 L339.3,211.3 Z" stroke="#000" stroke-width="1.3" fill="#fff" stroke-linejoin="round" stroke-linecap="round"/>
<ellipse cx="339.6" cy="221.8" rx="1.7" ry="1.2" stroke="#000" stroke-width="0.5" fill="#000"/>
<path d="M356.5,340.4 L471.7,273.9 L471.7,285.4 L467.3,300.5 L360.8,361.5 L356.5,359.4 Z" stroke="none" stroke-width="0" fill="#fff" stroke-linejoin="round" stroke-linecap="round"/>
<path d="M356.5,340.4 L471.7,273.9" stroke="#000" stroke-width="2.2" fill="none"/>
<path d="M356.5,342.5 L471.7,276" stroke="#000" stroke-width="0.9" fill="none"/>
<path d="M356.5,344.8 L471.7,278.3" stroke="#000" stroke-width="2" fill="none"/>
<path d="M356.5,346 L471.7,279.5" stroke="#000" stroke-width="0.9" fill="none"/>
<path d="M356.5,351 L471.7,284.5" stroke="#000" stroke-width="0.9" fill="none"/>
<path d="M356.5,352.2 L471.7,285.7" stroke="#000" stroke-width="1.2" fill="none"/>
<path d="M356.5,354.6 L471.7,288.1" stroke="#000" stroke-width="1.2" fill="none"/>
<path d="M360.5,361.7 L467,300.2" stroke="#000" stroke-width="1.6" fill="none"/>
<ellipse cx="360.9" cy="346" rx="1.2" ry="0.9" stroke="#333" stroke-width="0.7" fill="#fff" transform="rotate(-30 360.9 346)"/>
<ellipse cx="365.3" cy="343.5" rx="1.2" ry="0.9" stroke="#333" stroke-width="0.7" fill="#fff" transform="rotate(-30 365.3 343.5)"/>
<ellipse cx="369.8" cy="340.9" rx="1.2" ry="0.9" stroke="#333" stroke-width="0.7" fill="#fff" transform="rotate(-30 369.8 340.9)"/>
<ellipse cx="374.2" cy="338.4" rx="1.2" ry="0.9" stroke="#333" stroke-width="0.7" fill="#fff" transform="rotate(-30 374.2 338.4)"/>
<ellipse cx="378.6" cy="335.8" rx="1.2" ry="0.9" stroke="#333" stroke-width="0.7" fill="#fff" transform="rotate(-30 378.6 335.8)"/>
<ellipse cx="383" cy="333.3" rx="1.2" ry="0.9" stroke="#333" stroke-width="0.7" fill="#fff" transform="rotate(-30 383 333.3)"/>
<ellipse cx="387.4" cy="330.7" rx="1.2" ry="0.9" stroke="#333" stroke-width="0.7" fill="#fff" transform="rotate(-30 387.4 330.7)"/>
<ellipse cx="391.8" cy="328.2" rx="1.2" ry="0.9" stroke="#333" stroke-width="0.7" fill="#fff" transform="rotate(-30 391.8 328.2)"/>
<ellipse cx="396.3" cy="325.6" rx="1.2" ry="0.9" stroke="#333" stroke-width="0.7" fill="#fff" transform="rotate(-30 396.3 325.6)"/>
<ellipse cx="400.7" cy="323.1" rx="1.2" ry="0.9" stroke="#333" stroke-width="0.7" fill="#fff" transform="rotate(-30 400.7 323.1)"/>
<ellipse cx="405.1" cy="320.5" rx="1.2" ry="0.9" stroke="#333" stroke-width="0.7" fill="#fff" transform="rotate(-30 405.1 320.5)"/>
<ellipse cx="409.5" cy="318" rx="1.2" ry="0.9" stroke="#333" stroke-width="0.7" fill="#fff" transform="rotate(-30 409.5 318)"/>
<ellipse cx="413.9" cy="315.4" rx="1.2" ry="0.9" stroke="#333" stroke-width="0.7" fill="#fff" transform="rotate(-30 413.9 315.4)"/>
<ellipse cx="418.3" cy="312.9" rx="1.2" ry="0.9" stroke="#333" stroke-width="0.7" fill="#fff" transform="rotate(-30 418.3 312.9)"/>
<ellipse cx="422.8" cy="310.3" rx="1.2" ry="0.9" stroke="#333" stroke-width="0.7" fill="#fff" transform="rotate(-30 422.8 310.3)"/>
<ellipse cx="427.2" cy="307.8" rx="1.2" ry="0.9" stroke="#333" stroke-width="0.7" fill="#fff" transform="rotate(-30 427.2 307.8)"/>
<ellipse cx="431.6" cy="305.2" rx="1.2" ry="0.9" stroke="#333" stroke-width="0.7" fill="#fff" transform="rotate(-30 431.6 305.2)"/>
<ellipse cx="436" cy="302.7" rx="1.2" ry="0.9" stroke="#333" stroke-width="0.7" fill="#fff" transform="rotate(-30 436 302.7)"/>
<ellipse cx="440.4" cy="300.1" rx="1.2" ry="0.9" stroke="#333" stroke-width="0.7" fill="#fff" transform="rotate(-30 440.4 300.1)"/>
<ellipse cx="444.8" cy="297.6" rx="1.2" ry="0.9" stroke="#333" stroke-width="0.7" fill="#fff" transform="rotate(-30 444.8 297.6)"/>
<ellipse cx="449.3" cy="295" rx="1.2" ry="0.9" stroke="#333" stroke-width="0.7" fill="#fff" transform="rotate(-30 449.3 295)"/>
<ellipse cx="453.7" cy="292.5" rx="1.2" ry="0.9" stroke="#333" stroke-width="0.7" fill="#fff" transform="rotate(-30 453.7 292.5)"/>
<ellipse cx="458.1" cy="289.9" rx="1.2" ry="0.9" stroke="#333" stroke-width="0.7" fill="#fff" transform="rotate(-30 458.1 289.9)"/>
<ellipse cx="462.5" cy="287.4" rx="1.2" ry="0.9" stroke="#333" stroke-width="0.7" fill="#fff" transform="rotate(-30 462.5 287.4)"/>
<ellipse cx="466.9" cy="284.8" rx="1.2" ry="0.9" stroke="#333" stroke-width="0.7" fill="#fff" transform="rotate(-30 466.9 284.8)"/>
<path d="M471.7,273.9 L471.7,285.4" stroke="#000" stroke-width="1.6" fill="none"/>
<path d="M356.5,340.4 L356.5,359.4" stroke="#000" stroke-width="1.6" fill="none"/>
<path d="M355,342 L358,342 L358,359 L355,359 Z" stroke="#000" stroke-width="1.2" fill="#fff" stroke-linejoin="round" stroke-linecap="round"/>
<ellipse cx="356.8" cy="360.6" rx="4.3" ry="2.3" stroke="#000" stroke-width="0.8" fill="#000"/>
<path d="M353.9,344.2 L359.1,342.8" stroke="#000" stroke-width="1.7" fill="none"/>
<path d="M409.5,311.5 L412.5,311.5 L412.5,327.5 L409.5,327.5 Z" stroke="#000" stroke-width="1.2" fill="#fff" stroke-linejoin="round" stroke-linecap="round"/>
<ellipse cx="411.3" cy="329.1" rx="4.3" ry="2.3" stroke="#000" stroke-width="0.8" fill="#000"/>
<path d="M408.4,313.7 L413.6,312.3" stroke="#000" stroke-width="1.7" fill="none"/>
<path d="M466.7,280 L469.7,280 L469.7,295.5 L466.7,295.5 Z" stroke="#000" stroke-width="1.2" fill="#fff" stroke-linejoin="round" stroke-linecap="round"/>
<ellipse cx="468.5" cy="297.1" rx="4.3" ry="2.3" stroke="#000" stroke-width="0.8" fill="#000"/>
<path d="M465.6,282.2 L470.8,280.8" stroke="#000" stroke-width="1.7" fill="none"/>
<path d="M123.6,318 L127.4,316 L127.4,503 L123.6,501 Z" stroke="#000" stroke-width="1.2" fill="#fff" stroke-linejoin="round" stroke-linecap="round"/>
<path d="M128.7,300 L128.7,503.5" stroke="#111" stroke-width="3" fill="none" stroke-dasharray="2.4 0.4"/>
<path d="M128.6,298 L128.6,312" stroke="#000" stroke-width="3" fill="none"/>
<path d="M129.9,306.7 L223.9,252.4 L223.9,261.1 L129.9,315.4 Z" stroke="#000" stroke-width="1.3" fill="#fff" stroke-linejoin="round" stroke-linecap="round"/>
<path d="M129.9,306.7 L223.9,252.4" stroke="#000" stroke-width="1.7" fill="none"/>
<path d="M129.9,309.3 L223.9,255.1" stroke="#000" stroke-width="1" fill="none"/>
<path d="M130.9,312.7 L224.9,258.4" stroke="#000" stroke-width="1" fill="none"/>
<path d="M136.9,315.6 L227.4,263.3" stroke="#000" stroke-width="2.6" fill="none"/>
<path d="M222.9,243 L225.7,243 L225.7,263 L222.9,263 Z" stroke="#000" stroke-width="0.8" fill="#000" stroke-linejoin="round" stroke-linecap="round"/>
<path d="M226,262 L230.5,259.5 L232,262 L232,268 L227,270 Z" stroke="#000" stroke-width="1.3" fill="#fff" stroke-linejoin="round" stroke-linecap="round"/>
<path d="M124,320 L138,314 L138,317.5 L124,324 Z" stroke="#000" stroke-width="1.3" fill="#fff" stroke-linejoin="round" stroke-linecap="round"/>
<path d="M107.5,487.8 L96.8,482.6 Q94.6,483.5 95.8,486 L107.5,491.5" stroke="#000" stroke-width="1.3" fill="#fff" stroke-linejoin="round" stroke-linecap="round"/>
<path d="M128.5,503.4 L143,494.7" stroke="#000" stroke-width="1.4" fill="none"/>
<path d="M128.5,506 L143,497.5" stroke="#000" stroke-width="1.2" fill="none"/>
<path d="M130.4,404.9 L147.2,395.7" stroke="#000" stroke-width="1.4" fill="none"/>
<path d="M143,484.6 L252.1,547.6 L252.1,562.6 L143,499.1 Z" stroke="#000" stroke-width="1.4" fill="#fff" stroke-linejoin="round" stroke-linecap="round"/>
<path d="M143,488.2 L153.8,494.5 L153.8,502.5 L143,496.2 Z" stroke="#000" stroke-width="1.3" fill="#fff" stroke-linejoin="round" stroke-linecap="round"/>
<path d="M191.5,516.2 L205.4,524.2 L205.4,532.2 L191.5,524.2 Z" stroke="#000" stroke-width="1.3" fill="#fff" stroke-linejoin="round" stroke-linecap="round"/>
<path d="M240,544.2 L252.1,551.2 L252.1,559.2 L240,552.2 Z" stroke="#000" stroke-width="1.3" fill="#fff" stroke-linejoin="round" stroke-linecap="round"/>
<path d="M143,496.2 L252.1,559.2" stroke="#000" stroke-width="1.3" fill="none"/>
<path d="M159.5,532 L192.4,513.2 L197.5,516.6 L163,537.2 Z" stroke="#000" stroke-width="1.3" fill="#fff" stroke-linejoin="round" stroke-linecap="round"/>
<path d="M163,537.2 L197.5,516.6 L197.5,519.2 L163,540 Z" stroke="#000" stroke-width="1.2" fill="#fff" stroke-linejoin="round" stroke-linecap="round"/>
<path d="M150.5,540 L160,534.5 L166,545 L156,550.5 Z" stroke="#000" stroke-width="1.3" fill="#fff" stroke-linejoin="round" stroke-linecap="round"/>
<path d="M149.1,564.9 L221.8,522.9 L234.8,533.4 L163.8,574.4 Z" stroke="#000" stroke-width="1.4" fill="#fff" stroke-linejoin="round" stroke-linecap="round"/>
<path d="M149.1,564.9 L163.8,574.4 L163.8,577.2 L149.1,567.7 Z" stroke="#000" stroke-width="1.3" fill="#fff" stroke-linejoin="round" stroke-linecap="round"/>
<path d="M163.8,574.4 L234.8,533.4 L234.8,536.2 L163.8,577.2 Z" stroke="#000" stroke-width="1.3" fill="#fff" stroke-linejoin="round" stroke-linecap="round"/>
<path d="M170,543.5 L208,521.5" stroke="#000" stroke-width="1.2" fill="none"/>
<path d="M172.5,547.5 L211,525.2" stroke="#000" stroke-width="1.2" fill="none"/>
<path d="M131.8,552.8 L146,546 L154.3,557.1 L140,564.5 Z" stroke="#000" stroke-width="1.3" fill="#fff" stroke-linejoin="round" stroke-linecap="round"/>
<path d="M140,564.5 L154.3,557.1 L154.3,560 L140,567.5 Z" stroke="#000" stroke-width="1.2" fill="#fff" stroke-linejoin="round" stroke-linecap="round"/>
<path d="M139.6,524.2 L151.7,517.2 L176,560.5 L163,567.5 Z" stroke="#000" stroke-width="1.5" fill="#fff" stroke-linejoin="round" stroke-linecap="round"/>
<path d="M142.8,523 L166,565.5" stroke="#000" stroke-width="1" fill="none"/>
<ellipse cx="167.3" cy="558.8" rx="1.9" ry="2.3" stroke="#000" stroke-width="1.2" fill="#fff" transform="rotate(-30 167.3 558.8)"/>
<path d="M122.2,520 Q122,516.5 125.7,514.6 L135,510.3 Q137.5,509.3 140,510.5 L150,515 Q152.5,516.8 150,518.8 L140,524.6 Q137,526 134,524.8 L124.5,521.8 Q122.3,521 122.2,520 Z" stroke="#000" stroke-width="1.5" fill="#fff" stroke-linejoin="round" stroke-linecap="round"/>
<path d="M122.2,520 L122.2,526.5 Q122.5,528 125,529 L134,532 Q137,532.8 140,531 L149.5,525.5 L150.3,518.5" stroke="#000" stroke-width="1.4" fill="none" stroke-linejoin="round" stroke-linecap="round"/>
<path d="M122.3,521 L124.5,521.8 L134,524.8 L137,525.6 L140,524.6 L150,518.8 L149.5,525.5 L140,531 L137,532.3 L134,532 L125,529 L122.3,527 Z" stroke="none" stroke-width="0" fill="#fff" stroke-linejoin="round" stroke-linecap="round"/>
<path d="M122.2,520 L122.2,526.5 Q122.5,528 125,529 L134,532 Q137,532.8 140,531 L149.5,525.5 L150.3,518.5" stroke="#000" stroke-width="1.4" fill="none" stroke-linejoin="round" stroke-linecap="round"/>
<path d="M123.5,529.2 L136.8,532.6 L136.8,541 L123.5,538 Z" stroke="#000" stroke-width="1.4" fill="#fff" stroke-linejoin="round" stroke-linecap="round"/>
<path d="M125,538.3 L131.8,540 L131.8,554.5 L125,552.5 Z" stroke="#000" stroke-width="1.3" fill="#fff" stroke-linejoin="round" stroke-linecap="round"/>
<path d="M110.5,541.5 L117,543.5 L123,548.5 L123,556 L116,554 L110.5,550 Z" stroke="#000" stroke-width="1.3" fill="#fff" stroke-linejoin="round" stroke-linecap="round"/>
<path d="M112,545 L116.5,546.5 L116.5,551 L112,549.5 Z" stroke="#000" stroke-width="0.8" fill="#333" stroke-linejoin="round" stroke-linecap="round"/>
<path d="M119,551 L125.5,553 L125.5,560 L119,558 Z" stroke="#000" stroke-width="1.2" fill="#fff" stroke-linejoin="round" stroke-linecap="round"/>
<path d="M127,548 L133,550 L133,558 L127,556 Z" stroke="#000" stroke-width="1.2" fill="#fff" stroke-linejoin="round" stroke-linecap="round"/>
<ellipse cx="116.2" cy="567.2" rx="5.8" ry="9.8" stroke="#000" stroke-width="1.6" fill="#fff" transform="rotate(-16 116.2 567.2)"/>
<ellipse cx="113.2" cy="566.6" rx="5.8" ry="9.8" stroke="#000" stroke-width="1.6" fill="#fff" transform="rotate(-16 113.2 566.6)"/>
<ellipse cx="113" cy="566.6" rx="3.8" ry="7.2" stroke="#000" stroke-width="1" fill="#fff" transform="rotate(-16 113 566.6)"/>
<ellipse cx="136.6" cy="573.5" rx="9.6" ry="12.3" stroke="#000" stroke-width="1.6" fill="#fff" transform="rotate(-20 136.6 573.5)"/>
<ellipse cx="134" cy="572.7" rx="9.6" ry="12.3" stroke="#000" stroke-width="1.6" fill="#fff" transform="rotate(-20 134 572.7)"/>
<ellipse cx="133.8" cy="572.7" rx="6.6" ry="8.8" stroke="#000" stroke-width="1.3" fill="#fff" transform="rotate(-20 133.8 572.7)"/>
<ellipse cx="133.6" cy="572.7" rx="3.6" ry="4.9" stroke="#000" stroke-width="1.3" fill="#fff" transform="rotate(-20 133.6 572.7)"/>
<ellipse cx="133.6" cy="572.7" rx="1.3" ry="1.9" stroke="#000" stroke-width="1.2" fill="#fff" transform="rotate(-20 133.6 572.7)"/>
<path d="M119.5,556.5 L134.5,560.5 L140,566 L137,568.5 L124,562.5 Z" stroke="#000" stroke-width="1.3" fill="#fff" stroke-linejoin="round" stroke-linecap="round"/>
<path d="M104.2,401.5 L109.6,404 L109.6,533.5 L104.2,531 Z" stroke="#000" stroke-width="1.4" fill="#fff" stroke-linejoin="round" stroke-linecap="round"/>
<path d="M112.3,405 L112.3,521" stroke="#000" stroke-width="1.3" fill="none"/>
<path d="M104.9,535.4 L104.2,531 L111,520.7 L113.6,520.7 L122.2,535.4 L119.6,539.5 L112,541 Z" stroke="#000" stroke-width="1.3" fill="#fff" stroke-linejoin="round" stroke-linecap="round"/>
<ellipse cx="108" cy="527.5" rx="0.7" ry="0.7" stroke="#000" stroke-width="0.5" fill="#000"/>
<path d="M104.3,421 L92.3,397.5 Q90.3,391.8 96,393.3 L121,406.5 Q125.5,409.5 124.3,414 Q123.5,418 119,420 L110.5,424.8" stroke="#000" stroke-width="3.8" fill="none" stroke-linejoin="round" stroke-linecap="round"/>
<path d="M104.3,421 L92.3,397.5 Q90.3,391.8 96,393.3 L121,406.5 Q125.5,409.5 124.3,414 Q123.5,418 119,420 L110.5,424.8" stroke="#fff" stroke-width="1.2" fill="none" stroke-linejoin="round" stroke-linecap="round"/>
<path d="M112,408.5 L118.5,411.8" stroke="#000" stroke-width="2.5" fill="none"/>
<path d="M147.5,459.0 L147.5,485.5 A8.3,4.5 0 0 0 164.1,485.5 L164.1,459.0 Z" stroke="none" fill="#fff"/>
<path d="M147.5,485.5 A8.3,4.5 0 0 0 164.1,485.5" stroke="#000" stroke-width="1.25" fill="none"/>
<path d="M147.5,459.0 V485.5 M164.1,459.0 V485.5" stroke="#000" stroke-width="1.7" fill="none"/>
<path d="M159.9,466.2 L159.9,492.7 A8.3,4.5 0 0 0 176.5,492.7 L176.5,466.2 Z" stroke="none" fill="#fff"/>
<path d="M159.9,492.7 A8.3,4.5 0 0 0 176.5,492.7" stroke="#000" stroke-width="1.25" fill="none"/>
<path d="M159.9,466.2 V492.7 M176.5,466.2 V492.7" stroke="#000" stroke-width="1.7" fill="none"/>
<path d="M172.4,473.4 L172.4,499.9 A8.3,4.5 0 0 0 189.0,499.9 L189.0,473.4 Z" stroke="none" fill="#fff"/>
<path d="M172.4,499.9 A8.3,4.5 0 0 0 189.0,499.9" stroke="#000" stroke-width="1.25" fill="none"/>
<path d="M172.4,473.4 V499.9 M189.0,473.4 V499.9" stroke="#000" stroke-width="1.7" fill="none"/>
<path d="M184.8,480.6 L184.8,507.1 A8.3,4.5 0 0 0 201.4,507.1 L201.4,480.6 Z" stroke="none" fill="#fff"/>
<path d="M184.8,507.1 A8.3,4.5 0 0 0 201.4,507.1" stroke="#000" stroke-width="1.25" fill="none"/>
<path d="M184.8,480.6 V507.1 M201.4,480.6 V507.1" stroke="#000" stroke-width="1.7" fill="none"/>
<path d="M197.3,487.8 L197.3,514.3 A8.3,4.5 0 0 0 213.9,514.3 L213.9,487.8 Z" stroke="none" fill="#fff"/>
<path d="M197.3,514.3 A8.3,4.5 0 0 0 213.9,514.3" stroke="#000" stroke-width="1.25" fill="none"/>
<path d="M197.3,487.8 V514.3 M213.9,487.8 V514.3" stroke="#000" stroke-width="1.7" fill="none"/>
<path d="M209.7,495.0 L209.7,521.5 A8.3,4.5 0 0 0 226.3,521.5 L226.3,495.0 Z" stroke="none" fill="#fff"/>
<path d="M209.7,521.5 A8.3,4.5 0 0 0 226.3,521.5" stroke="#000" stroke-width="1.25" fill="none"/>
<path d="M209.7,495.0 V521.5 M226.3,495.0 V521.5" stroke="#000" stroke-width="1.7" fill="none"/>
<path d="M222.2,502.2 L222.2,528.7 A8.3,4.5 0 0 0 238.8,528.7 L238.8,502.2 Z" stroke="none" fill="#fff"/>
<path d="M222.2,528.7 A8.3,4.5 0 0 0 238.8,528.7" stroke="#000" stroke-width="1.25" fill="none"/>
<path d="M222.2,502.2 V528.7 M238.8,502.2 V528.7" stroke="#000" stroke-width="1.7" fill="none"/>
<path d="M234.6,509.4 L234.6,535.9 A8.3,4.5 0 0 0 251.2,535.9 L251.2,509.4 Z" stroke="none" fill="#fff"/>
<path d="M234.6,535.9 A8.3,4.5 0 0 0 251.2,535.9" stroke="#000" stroke-width="1.25" fill="none"/>
<path d="M234.6,509.4 V535.9 M251.2,509.4 V535.9" stroke="#000" stroke-width="1.7" fill="none"/>
<path d="M247.1,516.6 L247.1,543.1 A8.3,4.5 0 0 0 263.7,543.1 L263.7,516.6 Z" stroke="none" fill="#fff"/>
<path d="M247.1,543.1 A8.3,4.5 0 0 0 263.7,543.1" stroke="#000" stroke-width="1.25" fill="none"/>
<path d="M247.1,516.6 V543.1 M263.7,516.6 V543.1" stroke="#000" stroke-width="1.7" fill="none"/>
<path d="M147.5,434.5 L147.5,461.0 A8.3,4.5 0 0 0 164.1,461.0 L164.1,434.5 Z" stroke="none" fill="#fff"/>
<path d="M147.5,461.0 A8.3,4.5 0 0 0 164.1,461.0" stroke="#000" stroke-width="1.25" fill="none"/>
<path d="M147.5,434.5 V461.0 M164.1,434.5 V461.0" stroke="#000" stroke-width="1.7" fill="none"/>
<path d="M159.9,441.7 L159.9,468.2 A8.3,4.5 0 0 0 176.5,468.2 L176.5,441.7 Z" stroke="none" fill="#fff"/>
<path d="M159.9,468.2 A8.3,4.5 0 0 0 176.5,468.2" stroke="#000" stroke-width="1.25" fill="none"/>
<path d="M159.9,441.7 V468.2 M176.5,441.7 V468.2" stroke="#000" stroke-width="1.7" fill="none"/>
<path d="M172.4,448.9 L172.4,475.4 A8.3,4.5 0 0 0 189.0,475.4 L189.0,448.9 Z" stroke="none" fill="#fff"/>
<path d="M172.4,475.4 A8.3,4.5 0 0 0 189.0,475.4" stroke="#000" stroke-width="1.25" fill="none"/>
<path d="M172.4,448.9 V475.4 M189.0,448.9 V475.4" stroke="#000" stroke-width="1.7" fill="none"/>
<path d="M184.8,456.1 L184.8,482.6 A8.3,4.5 0 0 0 201.4,482.6 L201.4,456.1 Z" stroke="none" fill="#fff"/>
<path d="M184.8,482.6 A8.3,4.5 0 0 0 201.4,482.6" stroke="#000" stroke-width="1.25" fill="none"/>
<path d="M184.8,456.1 V482.6 M201.4,456.1 V482.6" stroke="#000" stroke-width="1.7" fill="none"/>
<path d="M197.3,463.3 L197.3,489.8 A8.3,4.5 0 0 0 213.9,489.8 L213.9,463.3 Z" stroke="none" fill="#fff"/>
<path d="M197.3,489.8 A8.3,4.5 0 0 0 213.9,489.8" stroke="#000" stroke-width="1.25" fill="none"/>
<path d="M197.3,463.3 V489.8 M213.9,463.3 V489.8" stroke="#000" stroke-width="1.7" fill="none"/>
<path d="M209.7,470.5 L209.7,497.0 A8.3,4.5 0 0 0 226.3,497.0 L226.3,470.5 Z" stroke="none" fill="#fff"/>
<path d="M209.7,497.0 A8.3,4.5 0 0 0 226.3,497.0" stroke="#000" stroke-width="1.25" fill="none"/>
<path d="M209.7,470.5 V497.0 M226.3,470.5 V497.0" stroke="#000" stroke-width="1.7" fill="none"/>
<path d="M222.2,477.7 L222.2,504.2 A8.3,4.5 0 0 0 238.8,504.2 L238.8,477.7 Z" stroke="none" fill="#fff"/>
<path d="M222.2,504.2 A8.3,4.5 0 0 0 238.8,504.2" stroke="#000" stroke-width="1.25" fill="none"/>
<path d="M222.2,477.7 V504.2 M238.8,477.7 V504.2" stroke="#000" stroke-width="1.7" fill="none"/>
<path d="M234.6,484.9 L234.6,511.4 A8.3,4.5 0 0 0 251.2,511.4 L251.2,484.9 Z" stroke="none" fill="#fff"/>
<path d="M234.6,511.4 A8.3,4.5 0 0 0 251.2,511.4" stroke="#000" stroke-width="1.25" fill="none"/>
<path d="M234.6,484.9 V511.4 M251.2,484.9 V511.4" stroke="#000" stroke-width="1.7" fill="none"/>
<path d="M247.1,492.1 L247.1,518.6 A8.3,4.5 0 0 0 263.7,518.6 L263.7,492.1 Z" stroke="none" fill="#fff"/>
<path d="M247.1,518.6 A8.3,4.5 0 0 0 263.7,518.6" stroke="#000" stroke-width="1.25" fill="none"/>
<path d="M247.1,492.1 V518.6 M263.7,492.1 V518.6" stroke="#000" stroke-width="1.7" fill="none"/>
<path d="M141.9,457 L258.8,524.5" stroke="#000" stroke-width="1.5" fill="none"/>
<path d="M141.9,457 L148.1,455.4 L148.1,460.6 Z" stroke="#000" stroke-width="1.2" fill="#fff" stroke-linejoin="round" stroke-linecap="round"/>
<path d="M147.5,410.0 L147.5,436.5 A8.3,4.5 0 0 0 164.1,436.5 L164.1,410.0 Z" stroke="none" fill="#fff"/>
<path d="M147.5,436.5 A8.3,4.5 0 0 0 164.1,436.5" stroke="#000" stroke-width="1.25" fill="none"/>
<path d="M147.5,410.0 V436.5 M164.1,410.0 V436.5" stroke="#000" stroke-width="1.7" fill="none"/>
<path d="M159.9,417.2 L159.9,443.7 A8.3,4.5 0 0 0 176.5,443.7 L176.5,417.2 Z" stroke="none" fill="#fff"/>
<path d="M159.9,443.7 A8.3,4.5 0 0 0 176.5,443.7" stroke="#000" stroke-width="1.25" fill="none"/>
<path d="M159.9,417.2 V443.7 M176.5,417.2 V443.7" stroke="#000" stroke-width="1.7" fill="none"/>
<path d="M172.4,424.4 L172.4,450.9 A8.3,4.5 0 0 0 189.0,450.9 L189.0,424.4 Z" stroke="none" fill="#fff"/>
<path d="M172.4,450.9 A8.3,4.5 0 0 0 189.0,450.9" stroke="#000" stroke-width="1.25" fill="none"/>
<path d="M172.4,424.4 V450.9 M189.0,424.4 V450.9" stroke="#000" stroke-width="1.7" fill="none"/>
<path d="M184.8,431.6 L184.8,458.1 A8.3,4.5 0 0 0 201.4,458.1 L201.4,431.6 Z" stroke="none" fill="#fff"/>
<path d="M184.8,458.1 A8.3,4.5 0 0 0 201.4,458.1" stroke="#000" stroke-width="1.25" fill="none"/>
<path d="M184.8,431.6 V458.1 M201.4,431.6 V458.1" stroke="#000" stroke-width="1.7" fill="none"/>
<path d="M197.3,438.8 L197.3,465.3 A8.3,4.5 0 0 0 213.9,465.3 L213.9,438.8 Z" stroke="none" fill="#fff"/>
<path d="M197.3,465.3 A8.3,4.5 0 0 0 213.9,465.3" stroke="#000" stroke-width="1.25" fill="none"/>
<path d="M197.3,438.8 V465.3 M213.9,438.8 V465.3" stroke="#000" stroke-width="1.7" fill="none"/>
<path d="M209.7,446.0 L209.7,472.5 A8.3,4.5 0 0 0 226.3,472.5 L226.3,446.0 Z" stroke="none" fill="#fff"/>
<path d="M209.7,472.5 A8.3,4.5 0 0 0 226.3,472.5" stroke="#000" stroke-width="1.25" fill="none"/>
<path d="M209.7,446.0 V472.5 M226.3,446.0 V472.5" stroke="#000" stroke-width="1.7" fill="none"/>
<path d="M222.2,453.2 L222.2,479.7 A8.3,4.5 0 0 0 238.8,479.7 L238.8,453.2 Z" stroke="none" fill="#fff"/>
<path d="M222.2,479.7 A8.3,4.5 0 0 0 238.8,479.7" stroke="#000" stroke-width="1.25" fill="none"/>
<path d="M222.2,453.2 V479.7 M238.8,453.2 V479.7" stroke="#000" stroke-width="1.7" fill="none"/>
<path d="M234.6,460.4 L234.6,486.9 A8.3,4.5 0 0 0 251.2,486.9 L251.2,460.4 Z" stroke="none" fill="#fff"/>
<path d="M234.6,486.9 A8.3,4.5 0 0 0 251.2,486.9" stroke="#000" stroke-width="1.25" fill="none"/>
<path d="M234.6,460.4 V486.9 M251.2,460.4 V486.9" stroke="#000" stroke-width="1.7" fill="none"/>
<path d="M247.1,467.6 L247.1,494.1 A8.3,4.5 0 0 0 263.7,494.1 L263.7,467.6 Z" stroke="none" fill="#fff"/>
<path d="M247.1,494.1 A8.3,4.5 0 0 0 263.7,494.1" stroke="#000" stroke-width="1.25" fill="none"/>
<path d="M247.1,467.6 V494.1 M263.7,467.6 V494.1" stroke="#000" stroke-width="1.7" fill="none"/>
<path d="M141.9,432.5 L258.8,500" stroke="#000" stroke-width="1.5" fill="none"/>
<path d="M141.9,432.5 L148.1,430.9 L148.1,436.1 Z" stroke="#000" stroke-width="1.2" fill="#fff" stroke-linejoin="round" stroke-linecap="round"/>
<path d="M147.5,385.5 L147.5,412.0 A8.3,4.5 0 0 0 164.1,412.0 L164.1,385.5 Z" stroke="none" fill="#fff"/>
<path d="M147.5,412.0 A8.3,4.5 0 0 0 164.1,412.0" stroke="#000" stroke-width="1.25" fill="none"/>
<path d="M147.5,385.5 V412.0 M164.1,385.5 V412.0" stroke="#000" stroke-width="1.7" fill="none"/>
<path d="M159.9,392.7 L159.9,419.2 A8.3,4.5 0 0 0 176.5,419.2 L176.5,392.7 Z" stroke="none" fill="#fff"/>
<path d="M159.9,419.2 A8.3,4.5 0 0 0 176.5,419.2" stroke="#000" stroke-width="1.25" fill="none"/>
<path d="M159.9,392.7 V419.2 M176.5,392.7 V419.2" stroke="#000" stroke-width="1.7" fill="none"/>
<path d="M172.4,399.9 L172.4,426.4 A8.3,4.5 0 0 0 189.0,426.4 L189.0,399.9 Z" stroke="none" fill="#fff"/>
<path d="M172.4,426.4 A8.3,4.5 0 0 0 189.0,426.4" stroke="#000" stroke-width="1.25" fill="none"/>
<path d="M172.4,399.9 V426.4 M189.0,399.9 V426.4" stroke="#000" stroke-width="1.7" fill="none"/>
<path d="M184.8,407.1 L184.8,433.6 A8.3,4.5 0 0 0 201.4,433.6 L201.4,407.1 Z" stroke="none" fill="#fff"/>
<path d="M184.8,433.6 A8.3,4.5 0 0 0 201.4,433.6" stroke="#000" stroke-width="1.25" fill="none"/>
<path d="M184.8,407.1 V433.6 M201.4,407.1 V433.6" stroke="#000" stroke-width="1.7" fill="none"/>
<path d="M197.3,414.3 L197.3,440.8 A8.3,4.5 0 0 0 213.9,440.8 L213.9,414.3 Z" stroke="none" fill="#fff"/>
<path d="M197.3,440.8 A8.3,4.5 0 0 0 213.9,440.8" stroke="#000" stroke-width="1.25" fill="none"/>
<path d="M197.3,414.3 V440.8 M213.9,414.3 V440.8" stroke="#000" stroke-width="1.7" fill="none"/>
<path d="M209.7,421.5 L209.7,448.0 A8.3,4.5 0 0 0 226.3,448.0 L226.3,421.5 Z" stroke="none" fill="#fff"/>
<path d="M209.7,448.0 A8.3,4.5 0 0 0 226.3,448.0" stroke="#000" stroke-width="1.25" fill="none"/>
<path d="M209.7,421.5 V448.0 M226.3,421.5 V448.0" stroke="#000" stroke-width="1.7" fill="none"/>
<path d="M222.2,428.7 L222.2,455.2 A8.3,4.5 0 0 0 238.8,455.2 L238.8,428.7 Z" stroke="none" fill="#fff"/>
<path d="M222.2,455.2 A8.3,4.5 0 0 0 238.8,455.2" stroke="#000" stroke-width="1.25" fill="none"/>
<path d="M222.2,428.7 V455.2 M238.8,428.7 V455.2" stroke="#000" stroke-width="1.7" fill="none"/>
<path d="M234.6,435.9 L234.6,462.4 A8.3,4.5 0 0 0 251.2,462.4 L251.2,435.9 Z" stroke="none" fill="#fff"/>
<path d="M234.6,462.4 A8.3,4.5 0 0 0 251.2,462.4" stroke="#000" stroke-width="1.25" fill="none"/>
<path d="M234.6,435.9 V462.4 M251.2,435.9 V462.4" stroke="#000" stroke-width="1.7" fill="none"/>
<path d="M247.1,443.1 L247.1,469.6 A8.3,4.5 0 0 0 263.7,469.6 L263.7,443.1 Z" stroke="none" fill="#fff"/>
<path d="M247.1,469.6 A8.3,4.5 0 0 0 263.7,469.6" stroke="#000" stroke-width="1.25" fill="none"/>
<path d="M247.1,443.1 V469.6 M263.7,443.1 V469.6" stroke="#000" stroke-width="1.7" fill="none"/>
<path d="M141.9,408 L258.8,475.5" stroke="#000" stroke-width="1.5" fill="none"/>
<path d="M141.9,408 L148.1,406.4 L148.1,411.6 Z" stroke="#000" stroke-width="1.2" fill="#fff" stroke-linejoin="round" stroke-linecap="round"/>
<path d="M147.5,361.0 L147.5,387.5 A8.3,4.5 0 0 0 164.1,387.5 L164.1,361.0 Z" stroke="none" fill="#fff"/>
<path d="M147.5,387.5 A8.3,4.5 0 0 0 164.1,387.5" stroke="#000" stroke-width="1.25" fill="none"/>
<path d="M147.5,361.0 V387.5 M164.1,361.0 V387.5" stroke="#000" stroke-width="1.7" fill="none"/>
<path d="M159.9,368.2 L159.9,394.7 A8.3,4.5 0 0 0 176.5,394.7 L176.5,368.2 Z" stroke="none" fill="#fff"/>
<path d="M159.9,394.7 A8.3,4.5 0 0 0 176.5,394.7" stroke="#000" stroke-width="1.25" fill="none"/>
<path d="M159.9,368.2 V394.7 M176.5,368.2 V394.7" stroke="#000" stroke-width="1.7" fill="none"/>
<path d="M172.4,375.4 L172.4,401.9 A8.3,4.5 0 0 0 189.0,401.9 L189.0,375.4 Z" stroke="none" fill="#fff"/>
<path d="M172.4,401.9 A8.3,4.5 0 0 0 189.0,401.9" stroke="#000" stroke-width="1.25" fill="none"/>
<path d="M172.4,375.4 V401.9 M189.0,375.4 V401.9" stroke="#000" stroke-width="1.7" fill="none"/>
<path d="M184.8,382.6 L184.8,409.1 A8.3,4.5 0 0 0 201.4,409.1 L201.4,382.6 Z" stroke="none" fill="#fff"/>
<path d="M184.8,409.1 A8.3,4.5 0 0 0 201.4,409.1" stroke="#000" stroke-width="1.25" fill="none"/>
<path d="M184.8,382.6 V409.1 M201.4,382.6 V409.1" stroke="#000" stroke-width="1.7" fill="none"/>
<path d="M197.3,389.8 L197.3,416.3 A8.3,4.5 0 0 0 213.9,416.3 L213.9,389.8 Z" stroke="none" fill="#fff"/>
<path d="M197.3,416.3 A8.3,4.5 0 0 0 213.9,416.3" stroke="#000" stroke-width="1.25" fill="none"/>
<path d="M197.3,389.8 V416.3 M213.9,389.8 V416.3" stroke="#000" stroke-width="1.7" fill="none"/>
<path d="M209.7,397.0 L209.7,423.5 A8.3,4.5 0 0 0 226.3,423.5 L226.3,397.0 Z" stroke="none" fill="#fff"/>
<path d="M209.7,423.5 A8.3,4.5 0 0 0 226.3,423.5" stroke="#000" stroke-width="1.25" fill="none"/>
<path d="M209.7,397.0 V423.5 M226.3,397.0 V423.5" stroke="#000" stroke-width="1.7" fill="none"/>
<path d="M222.2,404.2 L222.2,430.7 A8.3,4.5 0 0 0 238.8,430.7 L238.8,404.2 Z" stroke="none" fill="#fff"/>
<path d="M222.2,430.7 A8.3,4.5 0 0 0 238.8,430.7" stroke="#000" stroke-width="1.25" fill="none"/>
<path d="M222.2,404.2 V430.7 M238.8,404.2 V430.7" stroke="#000" stroke-width="1.7" fill="none"/>
<path d="M234.6,411.4 L234.6,437.9 A8.3,4.5 0 0 0 251.2,437.9 L251.2,411.4 Z" stroke="none" fill="#fff"/>
<path d="M234.6,437.9 A8.3,4.5 0 0 0 251.2,437.9" stroke="#000" stroke-width="1.25" fill="none"/>
<path d="M234.6,411.4 V437.9 M251.2,411.4 V437.9" stroke="#000" stroke-width="1.7" fill="none"/>
<path d="M247.1,418.6 L247.1,445.1 A8.3,4.5 0 0 0 263.7,445.1 L263.7,418.6 Z" stroke="none" fill="#fff"/>
<path d="M247.1,445.1 A8.3,4.5 0 0 0 263.7,445.1" stroke="#000" stroke-width="1.25" fill="none"/>
<path d="M247.1,418.6 V445.1 M263.7,418.6 V445.1" stroke="#000" stroke-width="1.7" fill="none"/>
<path d="M141.9,383.5 L258.8,451" stroke="#000" stroke-width="1.5" fill="none"/>
<path d="M141.9,383.5 L148.1,381.9 L148.1,387.1 Z" stroke="#000" stroke-width="1.2" fill="#fff" stroke-linejoin="round" stroke-linecap="round"/>
<path d="M147.5,336.5 L147.5,363.0 A8.3,4.5 0 0 0 164.1,363.0 L164.1,336.5 Z" stroke="none" fill="#fff"/>
<path d="M147.5,363.0 A8.3,4.5 0 0 0 164.1,363.0" stroke="#000" stroke-width="1.25" fill="none"/>
<path d="M147.5,336.5 V363.0 M164.1,336.5 V363.0" stroke="#000" stroke-width="1.7" fill="none"/>
<path d="M159.9,343.7 L159.9,370.2 A8.3,4.5 0 0 0 176.5,370.2 L176.5,343.7 Z" stroke="none" fill="#fff"/>
<path d="M159.9,370.2 A8.3,4.5 0 0 0 176.5,370.2" stroke="#000" stroke-width="1.25" fill="none"/>
<path d="M159.9,343.7 V370.2 M176.5,343.7 V370.2" stroke="#000" stroke-width="1.7" fill="none"/>
<path d="M172.4,350.9 L172.4,377.4 A8.3,4.5 0 0 0 189.0,377.4 L189.0,350.9 Z" stroke="none" fill="#fff"/>
<path d="M172.4,377.4 A8.3,4.5 0 0 0 189.0,377.4" stroke="#000" stroke-width="1.25" fill="none"/>
<path d="M172.4,350.9 V377.4 M189.0,350.9 V377.4" stroke="#000" stroke-width="1.7" fill="none"/>
<path d="M184.8,358.1 L184.8,384.6 A8.3,4.5 0 0 0 201.4,384.6 L201.4,358.1 Z" stroke="none" fill="#fff"/>
<path d="M184.8,384.6 A8.3,4.5 0 0 0 201.4,384.6" stroke="#000" stroke-width="1.25" fill="none"/>
<path d="M184.8,358.1 V384.6 M201.4,358.1 V384.6" stroke="#000" stroke-width="1.7" fill="none"/>
<path d="M197.3,365.3 L197.3,391.8 A8.3,4.5 0 0 0 213.9,391.8 L213.9,365.3 Z" stroke="none" fill="#fff"/>
<path d="M197.3,391.8 A8.3,4.5 0 0 0 213.9,391.8" stroke="#000" stroke-width="1.25" fill="none"/>
<path d="M197.3,365.3 V391.8 M213.9,365.3 V391.8" stroke="#000" stroke-width="1.7" fill="none"/>
<path d="M209.7,372.5 L209.7,399.0 A8.3,4.5 0 0 0 226.3,399.0 L226.3,372.5 Z" stroke="none" fill="#fff"/>
<path d="M209.7,399.0 A8.3,4.5 0 0 0 226.3,399.0" stroke="#000" stroke-width="1.25" fill="none"/>
<path d="M209.7,372.5 V399.0 M226.3,372.5 V399.0" stroke="#000" stroke-width="1.7" fill="none"/>
<path d="M222.2,379.7 L222.2,406.2 A8.3,4.5 0 0 0 238.8,406.2 L238.8,379.7 Z" stroke="none" fill="#fff"/>
<path d="M222.2,406.2 A8.3,4.5 0 0 0 238.8,406.2" stroke="#000" stroke-width="1.25" fill="none"/>
<path d="M222.2,379.7 V406.2 M238.8,379.7 V406.2" stroke="#000" stroke-width="1.7" fill="none"/>
<path d="M234.6,386.9 L234.6,413.4 A8.3,4.5 0 0 0 251.2,413.4 L251.2,386.9 Z" stroke="none" fill="#fff"/>
<path d="M234.6,413.4 A8.3,4.5 0 0 0 251.2,413.4" stroke="#000" stroke-width="1.25" fill="none"/>
<path d="M234.6,386.9 V413.4 M251.2,386.9 V413.4" stroke="#000" stroke-width="1.7" fill="none"/>
<path d="M247.1,394.1 L247.1,420.6 A8.3,4.5 0 0 0 263.7,420.6 L263.7,394.1 Z" stroke="none" fill="#fff"/>
<path d="M247.1,420.6 A8.3,4.5 0 0 0 263.7,420.6" stroke="#000" stroke-width="1.25" fill="none"/>
<path d="M247.1,394.1 V420.6 M263.7,394.1 V420.6" stroke="#000" stroke-width="1.7" fill="none"/>
<path d="M141.9,359 L258.8,426.5" stroke="#000" stroke-width="1.5" fill="none"/>
<path d="M141.9,359 L148.1,357.4 L148.1,362.6 Z" stroke="#000" stroke-width="1.2" fill="#fff" stroke-linejoin="round" stroke-linecap="round"/>
<path d="M147.5,315.9 L147.5,338.5 A8.3,4.5 0 0 0 164.1,338.5 L164.1,315.9 Z" stroke="none" fill="#fff"/>
<path d="M147.5,338.5 A8.3,4.5 0 0 0 164.1,338.5" stroke="#000" stroke-width="1.25" fill="none"/>
<path d="M147.5,315.9 V338.5 M164.1,315.9 V338.5" stroke="#000" stroke-width="1.7" fill="none"/>
<path d="M159.9,323.2 L159.9,345.7 A8.3,4.5 0 0 0 176.5,345.7 L176.5,323.2 Z" stroke="none" fill="#fff"/>
<path d="M159.9,345.7 A8.3,4.5 0 0 0 176.5,345.7" stroke="#000" stroke-width="1.25" fill="none"/>
<path d="M159.9,323.2 V345.7 M176.5,323.2 V345.7" stroke="#000" stroke-width="1.7" fill="none"/>
<path d="M172.4,330.6 L172.4,352.9 A8.3,4.5 0 0 0 189.0,352.9 L189.0,330.6 Z" stroke="none" fill="#fff"/>
<path d="M172.4,352.9 A8.3,4.5 0 0 0 189.0,352.9" stroke="#000" stroke-width="1.25" fill="none"/>
<path d="M172.4,330.6 V352.9 M189.0,330.6 V352.9" stroke="#000" stroke-width="1.7" fill="none"/>
<path d="M184.8,337.9 L184.8,360.1 A8.3,4.5 0 0 0 201.4,360.1 L201.4,337.9 Z" stroke="none" fill="#fff"/>
<path d="M184.8,360.1 A8.3,4.5 0 0 0 201.4,360.1" stroke="#000" stroke-width="1.25" fill="none"/>
<path d="M184.8,337.9 V360.1 M201.4,337.9 V360.1" stroke="#000" stroke-width="1.7" fill="none"/>
<path d="M197.3,345.3 L197.3,367.3 A8.3,4.5 0 0 0 213.9,367.3 L213.9,345.3 Z" stroke="none" fill="#fff"/>
<path d="M197.3,367.3 A8.3,4.5 0 0 0 213.9,367.3" stroke="#000" stroke-width="1.25" fill="none"/>
<path d="M197.3,345.3 V367.3 M213.9,345.3 V367.3" stroke="#000" stroke-width="1.7" fill="none"/>
<path d="M209.7,352.6 L209.7,374.5 A8.3,4.5 0 0 0 226.3,374.5 L226.3,352.6 Z" stroke="none" fill="#fff"/>
<path d="M209.7,374.5 A8.3,4.5 0 0 0 226.3,374.5" stroke="#000" stroke-width="1.25" fill="none"/>
<path d="M209.7,352.6 V374.5 M226.3,352.6 V374.5" stroke="#000" stroke-width="1.7" fill="none"/>
<path d="M222.2,359.9 L222.2,381.7 A8.3,4.5 0 0 0 238.8,381.7 L238.8,359.9 Z" stroke="none" fill="#fff"/>
<path d="M222.2,381.7 A8.3,4.5 0 0 0 238.8,381.7" stroke="#000" stroke-width="1.25" fill="none"/>
<path d="M222.2,359.9 V381.7 M238.8,359.9 V381.7" stroke="#000" stroke-width="1.7" fill="none"/>
<path d="M234.6,367.3 L234.6,388.9 A8.3,4.5 0 0 0 251.2,388.9 L251.2,367.3 Z" stroke="none" fill="#fff"/>
<path d="M234.6,388.9 A8.3,4.5 0 0 0 251.2,388.9" stroke="#000" stroke-width="1.25" fill="none"/>
<path d="M234.6,367.3 V388.9 M251.2,367.3 V388.9" stroke="#000" stroke-width="1.7" fill="none"/>
<path d="M247.1,374.6 L247.1,396.1 A8.3,4.5 0 0 0 263.7,396.1 L263.7,374.6 Z" stroke="none" fill="#fff"/>
<path d="M247.1,396.1 A8.3,4.5 0 0 0 263.7,396.1" stroke="#000" stroke-width="1.25" fill="none"/>
<path d="M247.1,374.6 V396.1 M263.7,374.6 V396.1" stroke="#000" stroke-width="1.7" fill="none"/>
<path d="M141.9,334.5 L258.8,402" stroke="#000" stroke-width="1.5" fill="none"/>
<path d="M141.9,334.5 L148.1,332.9 L148.1,338.1 Z" stroke="#000" stroke-width="1.2" fill="#fff" stroke-linejoin="round" stroke-linecap="round"/>
<path d="M143,484.6 L252.1,547.6 L252.1,551.2 L143,488.2 Z" stroke="#000" stroke-width="1.3" fill="#fff" stroke-linejoin="round" stroke-linecap="round"/>
<path d="M143,484.6 L252.1,547.6" stroke="#000" stroke-width="1.8" fill="none"/>
<path d="M209.7,277.8 L209.7,297.8 A8.5,5 0 0 0 226.7,297.8 L226.7,277.8 Z" stroke="#000" stroke-width="1.4" fill="#fff"/>
<ellipse cx="218.2" cy="277.8" rx="8.5" ry="5" stroke="#000" stroke-width="2" fill="#fff"/>
<path d="M222.1,285.1 L222.1,305.1 A8.5,5 0 0 0 239.1,305.1 L239.1,285.1 Z" stroke="#000" stroke-width="1.4" fill="#fff"/>
<ellipse cx="230.6" cy="285.1" rx="8.5" ry="5" stroke="#000" stroke-width="2" fill="#fff"/>
<path d="M197.2,285.4 L197.2,305.4 A8.5,5 0 0 0 214.2,305.4 L214.2,285.4 Z" stroke="#000" stroke-width="1.4" fill="#fff"/>
<ellipse cx="205.7" cy="285.4" rx="8.5" ry="5" stroke="#000" stroke-width="2" fill="#fff"/>
<path d="M234.6,292.5 L234.6,312.5 A8.5,5 0 0 0 251.6,312.5 L251.6,292.5 Z" stroke="#000" stroke-width="1.4" fill="#fff"/>
<ellipse cx="243.1" cy="292.5" rx="8.5" ry="5" stroke="#000" stroke-width="2" fill="#fff"/>
<path d="M209.7,292.8 L209.7,312.8 A8.5,5 0 0 0 226.7,312.8 L226.7,292.8 Z" stroke="#000" stroke-width="1.4" fill="#fff"/>
<ellipse cx="218.2" cy="292.8" rx="8.5" ry="5" stroke="#000" stroke-width="2" fill="#fff"/>
<path d="M184.7,293 L184.7,313 A8.5,5 0 0 0 201.7,313 L201.7,293 Z" stroke="#000" stroke-width="1.4" fill="#fff"/>
<ellipse cx="193.2" cy="293" rx="8.5" ry="5" stroke="#000" stroke-width="2" fill="#fff"/>
<path d="M247,299.8 L247,319.8 A8.5,5 0 0 0 264,319.8 L264,299.8 Z" stroke="#000" stroke-width="1.4" fill="#fff"/>
<ellipse cx="255.5" cy="299.8" rx="8.5" ry="5" stroke="#000" stroke-width="2" fill="#fff"/>
<path d="M222.1,300.1 L222.1,320.1 A8.5,5 0 0 0 239.1,320.1 L239.1,300.1 Z" stroke="#000" stroke-width="1.4" fill="#fff"/>
<ellipse cx="230.6" cy="300.1" rx="8.5" ry="5" stroke="#000" stroke-width="2" fill="#fff"/>
<path d="M197.2,300.4 L197.2,320.4 A8.5,5 0 0 0 214.2,320.4 L214.2,300.4 Z" stroke="#000" stroke-width="1.4" fill="#fff"/>
<ellipse cx="205.7" cy="300.4" rx="8.5" ry="5" stroke="#000" stroke-width="2" fill="#fff"/>
<path d="M172.3,300.7 L172.3,320.7 A8.5,5 0 0 0 189.3,320.7 L189.3,300.7 Z" stroke="#000" stroke-width="1.4" fill="#fff"/>
<ellipse cx="180.8" cy="300.7" rx="8.5" ry="5" stroke="#000" stroke-width="2" fill="#fff"/>
<path d="M259.5,307.2 L259.5,327.2 A8.5,5 0 0 0 276.5,327.2 L276.5,307.2 Z" stroke="#000" stroke-width="1.4" fill="#fff"/>
<ellipse cx="268" cy="307.2" rx="8.5" ry="5" stroke="#000" stroke-width="2" fill="#fff"/>
<path d="M234.6,307.4 L234.6,327.4 A8.5,5 0 0 0 251.6,327.4 L251.6,307.4 Z" stroke="#000" stroke-width="1.4" fill="#fff"/>
<ellipse cx="243.1" cy="307.4" rx="8.5" ry="5" stroke="#000" stroke-width="2" fill="#fff"/>
<path d="M209.6,307.7 L209.6,327.7 A8.5,5 0 0 0 226.6,327.7 L226.6,307.7 Z" stroke="#000" stroke-width="1.4" fill="#fff"/>
<ellipse cx="218.1" cy="307.7" rx="8.5" ry="5" stroke="#000" stroke-width="2" fill="#fff"/>
<path d="M184.7,308 L184.7,328 A8.5,5 0 0 0 201.7,328 L201.7,308 Z" stroke="#000" stroke-width="1.4" fill="#fff"/>
<ellipse cx="193.2" cy="308" rx="8.5" ry="5" stroke="#000" stroke-width="2" fill="#fff"/>
<path d="M159.8,308.3 L159.8,328.3 A8.5,5 0 0 0 176.8,328.3 L176.8,308.3 Z" stroke="#000" stroke-width="1.4" fill="#fff"/>
<ellipse cx="168.3" cy="308.3" rx="8.5" ry="5" stroke="#000" stroke-width="2" fill="#fff"/>
<path d="M271.9,314.5 L271.9,334.5 A8.5,5 0 0 0 288.9,334.5 L288.9,314.5 Z" stroke="#000" stroke-width="1.4" fill="#fff"/>
<ellipse cx="280.4" cy="314.5" rx="8.5" ry="5" stroke="#000" stroke-width="2" fill="#fff"/>
<path d="M247,314.8 L247,334.8 A8.5,5 0 0 0 264,334.8 L264,314.8 Z" stroke="#000" stroke-width="1.4" fill="#fff"/>
<ellipse cx="255.5" cy="314.8" rx="8.5" ry="5" stroke="#000" stroke-width="2" fill="#fff"/>
<path d="M222.1,315.1 L222.1,335.1 A8.5,5 0 0 0 239.1,335.1 L239.1,315.1 Z" stroke="#000" stroke-width="1.4" fill="#fff"/>
<ellipse cx="230.6" cy="315.1" rx="8.5" ry="5" stroke="#000" stroke-width="2" fill="#fff"/>
<path d="M197.2,315.3 L197.2,335.3 A8.5,5 0 0 0 214.2,335.3 L214.2,315.3 Z" stroke="#000" stroke-width="1.4" fill="#fff"/>
<ellipse cx="205.7" cy="315.3" rx="8.5" ry="5" stroke="#000" stroke-width="2" fill="#fff"/>
<path d="M172.2,315.6 L172.2,335.6 A8.5,5 0 0 0 189.2,335.6 L189.2,315.6 Z" stroke="#000" stroke-width="1.4" fill="#fff"/>
<ellipse cx="180.7" cy="315.6" rx="8.5" ry="5" stroke="#000" stroke-width="2" fill="#fff"/>
<path d="M147.3,315.9 L147.3,335.9 A8.5,5 0 0 0 164.3,335.9 L164.3,315.9 Z" stroke="#000" stroke-width="1.4" fill="#fff"/>
<ellipse cx="155.8" cy="315.9" rx="8.5" ry="5" stroke="#000" stroke-width="2" fill="#fff"/>
<path d="M284.4,321.8 L284.4,341.8 A8.5,5 0 0 0 301.4,341.8 L301.4,321.8 Z" stroke="#000" stroke-width="1.4" fill="#fff"/>
<ellipse cx="292.9" cy="321.8" rx="8.5" ry="5" stroke="#000" stroke-width="2" fill="#fff"/>
<path d="M259.5,322.1 L259.5,342.1 A8.5,5 0 0 0 276.5,342.1 L276.5,322.1 Z" stroke="#000" stroke-width="1.4" fill="#fff"/>
<ellipse cx="268" cy="322.1" rx="8.5" ry="5" stroke="#000" stroke-width="2" fill="#fff"/>
<path d="M234.5,322.4 L234.5,342.4 A8.5,5 0 0 0 251.5,342.4 L251.5,322.4 Z" stroke="#000" stroke-width="1.4" fill="#fff"/>
<ellipse cx="243" cy="322.4" rx="8.5" ry="5" stroke="#000" stroke-width="2" fill="#fff"/>
<path d="M209.6,322.7 L209.6,342.7 A8.5,5 0 0 0 226.6,342.7 L226.6,322.7 Z" stroke="#000" stroke-width="1.4" fill="#fff"/>
<ellipse cx="218.1" cy="322.7" rx="8.5" ry="5" stroke="#000" stroke-width="2" fill="#fff"/>
<path d="M184.7,323 L184.7,343 A8.5,5 0 0 0 201.7,343 L201.7,323 Z" stroke="#000" stroke-width="1.4" fill="#fff"/>
<ellipse cx="193.2" cy="323" rx="8.5" ry="5" stroke="#000" stroke-width="2" fill="#fff"/>
<path d="M159.7,323.2 L159.7,343.2 A8.5,5 0 0 0 176.7,343.2 L176.7,323.2 Z" stroke="#000" stroke-width="1.4" fill="#fff"/>
<ellipse cx="168.2" cy="323.2" rx="8.5" ry="5" stroke="#000" stroke-width="2" fill="#fff"/>
<path d="M296.8,329.2 L296.8,349.2 A8.5,5 0 0 0 313.8,349.2 L313.8,329.2 Z" stroke="#000" stroke-width="1.4" fill="#fff"/>
<ellipse cx="305.3" cy="329.2" rx="8.5" ry="5" stroke="#000" stroke-width="2" fill="#fff"/>
<path d="M271.9,329.5 L271.9,349.5 A8.5,5 0 0 0 288.9,349.5 L288.9,329.5 Z" stroke="#000" stroke-width="1.4" fill="#fff"/>
<ellipse cx="280.4" cy="329.5" rx="8.5" ry="5" stroke="#000" stroke-width="2" fill="#fff"/>
<path d="M247,329.7 L247,349.7 A8.5,5 0 0 0 264,349.7 L264,329.7 Z" stroke="#000" stroke-width="1.4" fill="#fff"/>
<ellipse cx="255.5" cy="329.7" rx="8.5" ry="5" stroke="#000" stroke-width="2" fill="#fff"/>
<path d="M222.1,330 L222.1,350 A8.5,5 0 0 0 239.1,350 L239.1,330 Z" stroke="#000" stroke-width="1.4" fill="#fff"/>
<ellipse cx="230.6" cy="330" rx="8.5" ry="5" stroke="#000" stroke-width="2" fill="#fff"/>
<path d="M197.1,330.3 L197.1,350.3 A8.5,5 0 0 0 214.1,350.3 L214.1,330.3 Z" stroke="#000" stroke-width="1.4" fill="#fff"/>
<ellipse cx="205.6" cy="330.3" rx="8.5" ry="5" stroke="#000" stroke-width="2" fill="#fff"/>
<path d="M172.2,330.6 L172.2,350.6 A8.5,5 0 0 0 189.2,350.6 L189.2,330.6 Z" stroke="#000" stroke-width="1.4" fill="#fff"/>
<ellipse cx="180.7" cy="330.6" rx="8.5" ry="5" stroke="#000" stroke-width="2" fill="#fff"/>
<path d="M309.3,336.5 L309.3,356.5 A8.5,5 0 0 0 326.3,356.5 L326.3,336.5 Z" stroke="#000" stroke-width="1.4" fill="#fff"/>
<ellipse cx="317.8" cy="336.5" rx="8.5" ry="5" stroke="#000" stroke-width="2" fill="#fff"/>
<path d="M284.4,336.8 L284.4,356.8 A8.5,5 0 0 0 301.4,356.8 L301.4,336.8 Z" stroke="#000" stroke-width="1.4" fill="#fff"/>
<ellipse cx="292.9" cy="336.8" rx="8.5" ry="5" stroke="#000" stroke-width="2" fill="#fff"/>
<path d="M259.4,337.1 L259.4,357.1 A8.5,5 0 0 0 276.4,357.1 L276.4,337.1 Z" stroke="#000" stroke-width="1.4" fill="#fff"/>
<ellipse cx="267.9" cy="337.1" rx="8.5" ry="5" stroke="#000" stroke-width="2" fill="#fff"/>
<path d="M234.5,337.4 L234.5,357.4 A8.5,5 0 0 0 251.5,357.4 L251.5,337.4 Z" stroke="#000" stroke-width="1.4" fill="#fff"/>
<ellipse cx="243" cy="337.4" rx="8.5" ry="5" stroke="#000" stroke-width="2" fill="#fff"/>
<path d="M209.6,337.6 L209.6,357.6 A8.5,5 0 0 0 226.6,357.6 L226.6,337.6 Z" stroke="#000" stroke-width="1.4" fill="#fff"/>
<ellipse cx="218.1" cy="337.6" rx="8.5" ry="5" stroke="#000" stroke-width="2" fill="#fff"/>
<path d="M184.6,337.9 L184.6,357.9 A8.5,5 0 0 0 201.6,357.9 L201.6,337.9 Z" stroke="#000" stroke-width="1.4" fill="#fff"/>
<ellipse cx="193.1" cy="337.9" rx="8.5" ry="5" stroke="#000" stroke-width="2" fill="#fff"/>
<path d="M296.8,344.1 L296.8,364.1 A8.5,5 0 0 0 313.8,364.1 L313.8,344.1 Z" stroke="#000" stroke-width="1.4" fill="#fff"/>
<ellipse cx="305.3" cy="344.1" rx="8.5" ry="5" stroke="#000" stroke-width="2" fill="#fff"/>
<path d="M271.9,344.4 L271.9,364.4 A8.5,5 0 0 0 288.9,364.4 L288.9,344.4 Z" stroke="#000" stroke-width="1.4" fill="#fff"/>
<ellipse cx="280.4" cy="344.4" rx="8.5" ry="5" stroke="#000" stroke-width="2" fill="#fff"/>
<path d="M247,344.7 L247,364.7 A8.5,5 0 0 0 264,364.7 L264,344.7 Z" stroke="#000" stroke-width="1.4" fill="#fff"/>
<ellipse cx="255.5" cy="344.7" rx="8.5" ry="5" stroke="#000" stroke-width="2" fill="#fff"/>
<path d="M222,345 L222,365 A8.5,5 0 0 0 239,365 L239,345 Z" stroke="#000" stroke-width="1.4" fill="#fff"/>
<ellipse cx="230.5" cy="345" rx="8.5" ry="5" stroke="#000" stroke-width="2" fill="#fff"/>
<path d="M197.1,345.3 L197.1,365.3 A8.5,5 0 0 0 214.1,365.3 L214.1,345.3 Z" stroke="#000" stroke-width="1.4" fill="#fff"/>
<ellipse cx="205.6" cy="345.3" rx="8.5" ry="5" stroke="#000" stroke-width="2" fill="#fff"/>
<path d="M284.3,351.8 L284.3,371.8 A8.5,5 0 0 0 301.3,371.8 L301.3,351.8 Z" stroke="#000" stroke-width="1.4" fill="#fff"/>
<ellipse cx="292.8" cy="351.8" rx="8.5" ry="5" stroke="#000" stroke-width="2" fill="#fff"/>
<path d="M259.4,352 L259.4,372 A8.5,5 0 0 0 276.4,372 L276.4,352 Z" stroke="#000" stroke-width="1.4" fill="#fff"/>
<ellipse cx="267.9" cy="352" rx="8.5" ry="5" stroke="#000" stroke-width="2" fill="#fff"/>
<path d="M234.5,352.3 L234.5,372.3 A8.5,5 0 0 0 251.5,372.3 L251.5,352.3 Z" stroke="#000" stroke-width="1.4" fill="#fff"/>
<ellipse cx="243" cy="352.3" rx="8.5" ry="5" stroke="#000" stroke-width="2" fill="#fff"/>
<path d="M209.5,352.6 L209.5,372.6 A8.5,5 0 0 0 226.5,372.6 L226.5,352.6 Z" stroke="#000" stroke-width="1.4" fill="#fff"/>
<ellipse cx="218" cy="352.6" rx="8.5" ry="5" stroke="#000" stroke-width="2" fill="#fff"/>
<path d="M271.9,359.4 L271.9,379.4 A8.5,5 0 0 0 288.9,379.4 L288.9,359.4 Z" stroke="#000" stroke-width="1.4" fill="#fff"/>
<ellipse cx="280.4" cy="359.4" rx="8.5" ry="5" stroke="#000" stroke-width="2" fill="#fff"/>
<path d="M246.9,359.7 L246.9,379.7 A8.5,5 0 0 0 263.9,379.7 L263.9,359.7 Z" stroke="#000" stroke-width="1.4" fill="#fff"/>
<ellipse cx="255.4" cy="359.7" rx="8.5" ry="5" stroke="#000" stroke-width="2" fill="#fff"/>
<path d="M222,359.9 L222,379.9 A8.5,5 0 0 0 239,379.9 L239,359.9 Z" stroke="#000" stroke-width="1.4" fill="#fff"/>
<ellipse cx="230.5" cy="359.9" rx="8.5" ry="5" stroke="#000" stroke-width="2" fill="#fff"/>
<path d="M259.4,367 L259.4,387 A8.5,5 0 0 0 276.4,387 L276.4,367 Z" stroke="#000" stroke-width="1.4" fill="#fff"/>
<ellipse cx="267.9" cy="367" rx="8.5" ry="5" stroke="#000" stroke-width="2" fill="#fff"/>
<path d="M234.4,367.3 L234.4,387.3 A8.5,5 0 0 0 251.4,387.3 L251.4,367.3 Z" stroke="#000" stroke-width="1.4" fill="#fff"/>
<ellipse cx="242.9" cy="367.3" rx="8.5" ry="5" stroke="#000" stroke-width="2" fill="#fff"/>
<path d="M246.9,374.6 L246.9,394.6 A8.5,5 0 0 0 263.9,394.6 L263.9,374.6 Z" stroke="#000" stroke-width="1.4" fill="#fff"/>
<ellipse cx="255.4" cy="374.6" rx="8.5" ry="5" stroke="#000" stroke-width="2" fill="#fff"/>
<path d="M138.6,315.3 L252,380.8 L251.2,383.6 L137.8,318.1 Z" stroke="#000" stroke-width="1.8" fill="#fff" stroke-linejoin="round" stroke-linecap="round"/>
<path d="M168,336 Q150,343 147.2,348.5 Q146,354 152,360 Q163,370 193,381 Q205,384 226,369.8" stroke="#000" stroke-width="4.2" fill="none" stroke-linejoin="round" stroke-linecap="round"/>
<path d="M168,336 Q150,343 147.2,348.5 Q146,354 152,360 Q163,370 193,381 Q205,384 226,369.8" stroke="#fff" stroke-width="2" fill="none" stroke-linejoin="round" stroke-linecap="round"/>
<path d="M249.6,391 L255.6,391 L255.6,576 L249.6,575.5 Z" stroke="none" stroke-width="0" fill="#fff" stroke-linejoin="round" stroke-linecap="round"/>
<path d="M250.9,391 L250.9,575.8" stroke="#000" stroke-width="2.1" fill="none"/>
<path d="M254.9,391 L254.9,484" stroke="#000" stroke-width="1.7" fill="none"/>
<path d="M250.9,370.5 L253.6,370.5 L253.6,392 L250.9,392 Z" stroke="#000" stroke-width="0.8" fill="#000" stroke-linejoin="round" stroke-linecap="round"/>
<path d="M256,392.5 L346.8,340.5 L346.8,431 L256,483 Z" stroke="#000" stroke-width="1.3" fill="#fff" stroke-linejoin="round" stroke-linecap="round"/>
<path d="M258.5,476.5 L346.8,426" stroke="#000" stroke-width="1.3" fill="none"/>
<path d="M258.5,391 L258.5,477" stroke="#000" stroke-width="1.2" fill="none"/>
<path d="M252.5,382.3 L347.8,327.3 L348.2,338.3 L255.5,391.8 Z" stroke="#000" stroke-width="1.2" fill="#fff" stroke-linejoin="round" stroke-linecap="round"/>
<path d="M252.5,382.3 L347.8,327.3" stroke="#000" stroke-width="1.6" fill="none"/>
<path d="M253.4,384.5 L348.1,329.8" stroke="#000" stroke-width="0.9" fill="none"/>
<path d="M255.5,389.7 L348.8,335.8" stroke="#000" stroke-width="1.4" fill="none"/>
<path d="M346.5,330.5 L354.2,333.5 L354.2,398 L346.5,398 Z" stroke="#000" stroke-width="1.3" fill="#fff" stroke-linejoin="round" stroke-linecap="round"/>
<path d="M349,331.5 L349,398" stroke="#000" stroke-width="1" fill="none"/>
<path d="M346.4,315 L349.2,315 L349.2,331 L346.4,331 Z" stroke="#000" stroke-width="0.8" fill="#000" stroke-linejoin="round" stroke-linecap="round"/>
<path d="M247,390.5 L249.6,389.5 L249.6,394.5 L247,395 Z" stroke="#000" stroke-width="1.2" fill="#fff" stroke-linejoin="round" stroke-linecap="round"/>
<path d="M370,537 L375,534.3 L378.5,536 L378.5,539.5 L373.5,542.3 L370,540.5 Z" stroke="#000" stroke-width="1.2" fill="#fff" stroke-linejoin="round" stroke-linecap="round"/>
<ellipse cx="377" cy="538" rx="1.5" ry="1.8" stroke="#000" stroke-width="1" fill="#fff"/>
<path d="M256.7,483 L283.3,499 L378.8,445.5 L353.5,430.8 Z" stroke="#000" stroke-width="1.3" fill="#fff" stroke-linejoin="round" stroke-linecap="round"/>
<path d="M256.7,483 L283.3,499 L283.8,582.5 L256.7,569 Z" stroke="#000" stroke-width="1.3" fill="#fff" stroke-linejoin="round" stroke-linecap="round"/>
<path d="M283.3,499 L378.8,445.5 L379.8,529.5 L283.8,582.5 Z" stroke="#000" stroke-width="1.3" fill="#fff" stroke-linejoin="round" stroke-linecap="round"/>
<path d="M332.4,471.8 L332.4,555.6" stroke="#000" stroke-width="1.3" fill="none"/>
<ellipse cx="336.8" cy="477.2" rx="1.5" ry="1.9" stroke="#000" stroke-width="0.7" fill="#000"/>
<ellipse cx="336.8" cy="549" rx="1.5" ry="1.9" stroke="#000" stroke-width="0.7" fill="#000"/>
<ellipse cx="269.5" cy="486.2" rx="1" ry="0.9" stroke="#000" stroke-width="0.7" fill="#000"/>
<path d="M347.5,434 L349,434.6" stroke="#000" stroke-width="1.2" fill="none"/>
<path d="M350.5,435.5 L352,436.1" stroke="#000" stroke-width="1.2" fill="none"/>
<path d="M353.5,436.5 L355,437.1" stroke="#000" stroke-width="1.2" fill="none"/>
<path d="M250.9,560 L250.9,575.8" stroke="#000" stroke-width="2.1" fill="none"/>
<path d="M250.3,575.4 L282.0,593.3 Q284.6,593.6 285.2,590.6 Q285.4,588.3 283.6,587.6 L256.5,573.8" stroke="#000" stroke-width="1.4" fill="#fff" stroke-linejoin="round" stroke-linecap="round"/>
<ellipse cx="283.5" cy="590.7" rx="1.5" ry="2.6" stroke="#000" stroke-width="1.3" fill="#fff" transform="rotate(-15 283.5 590.7)"/>
<path d="M345.6,400.0 Q350.4,397.0 355.2,400.0 L355.2,405.5 Q350.4,408.0 345.6,405.5 Z" stroke="#000" stroke-width="1.3" fill="#fff" stroke-linejoin="round" stroke-linecap="round"/>
<path d="M345.6,407.0 Q350.4,404.0 355.2,407.0 L355.2,412.5 Q350.4,415.0 345.6,412.5 Z" stroke="#000" stroke-width="1.3" fill="#fff" stroke-linejoin="round" stroke-linecap="round"/>
<path d="M345.6,414.0 Q350.4,411.0 355.2,414.0 L355.2,419.5 Q350.4,422.0 345.6,419.5 Z" stroke="#000" stroke-width="1.3" fill="#fff" stroke-linejoin="round" stroke-linecap="round"/>
<path d="M345.6,420 L355.2,424 L352,428 L351,433.5 L349.6,433.5 L348.6,428 L345.6,424 Z" stroke="#000" stroke-width="1.3" fill="#fff" stroke-linejoin="round" stroke-linecap="round"/>
<text x="26.5" y="225.2" font-size="11" fill="#1b2d55" text-anchor="start" textLength="147.5" lengthAdjust="spacingAndGlyphs" stroke="#1b2d55" stroke-width="0.25">PALLET UNLOADING STATION</text>
<path d="M26,227.2 L174.5,227.2" stroke="#1b2d55" stroke-width="1.2" fill="none"/>
<path d="M174.5,227.2 L214,260.5" stroke="#1b2d55" stroke-width="1.2" fill="none"/>
<path d="M214,260.5 L209.3,258.3 L211,256.3 Z" stroke="#1b2d55" stroke-width="0.5" fill="#1b2d55" stroke-linejoin="round" stroke-linecap="round"/>
<text x="123" y="177.1" font-size="11" fill="#1b2d55" text-anchor="start" textLength="146.3" lengthAdjust="spacingAndGlyphs" stroke="#1b2d55" stroke-width="0.25">PALLET LEVELLING ELEVATOR</text>
<path d="M122.5,179.1 L269.8,179.1" stroke="#1b2d55" stroke-width="1.2" fill="none"/>
<path d="M269.8,179.1 L308,224" stroke="#1b2d55" stroke-width="1.2" fill="none"/>
<path d="M308,224 L303.8,221.1 L305.7,219.4 Z" stroke="#1b2d55" stroke-width="0.5" fill="#1b2d55" stroke-linejoin="round" stroke-linecap="round"/>
<text x="262.5" y="108.6" font-size="11" fill="#1b2d55" text-anchor="start" textLength="116.5" lengthAdjust="spacingAndGlyphs" stroke="#1b2d55" stroke-width="0.25">CAN FEED CONVEYOR</text>
<path d="M262,110.6 L379.5,110.6" stroke="#1b2d55" stroke-width="1.2" fill="none"/>
<path d="M379.5,110.6 L523.5,211" stroke="#1b2d55" stroke-width="1.2" fill="none"/>
<path d="M523.5,211 L518.7,209.2 L520.1,207.1 Z" stroke="#1b2d55" stroke-width="0.5" fill="#1b2d55" stroke-linejoin="round" stroke-linecap="round"/>
<text x="387" y="58.3" font-size="11" fill="#1b2d55" text-anchor="start" textLength="75" lengthAdjust="spacingAndGlyphs" stroke="#1b2d55" stroke-width="0.25">ROTARY TABLE</text>
<path d="M386.5,60.3 L462.5,60.3" stroke="#1b2d55" stroke-width="1.2" fill="none"/>
<path d="M462.5,60.3 L652,141.5" stroke="#1b2d55" stroke-width="1.2" fill="none"/>
<path d="M652,141.5 L646.9,140.7 L647.9,138.3 Z" stroke="#1b2d55" stroke-width="0.5" fill="#1b2d55" stroke-linejoin="round" stroke-linecap="round"/>
<text x="475.5" y="16.6" font-size="11" fill="#1b2d55" text-anchor="start" textLength="100" lengthAdjust="spacingAndGlyphs" stroke="#1b2d55" stroke-width="0.25">OUTLET CONVEYOR</text>
<path d="M475,18.6 L576,18.6" stroke="#1b2d55" stroke-width="1.2" fill="none"/>
<path d="M576,18.6 L605.5,55.5" stroke="#1b2d55" stroke-width="1.2" fill="none"/>
<path d="M605.5,55.5 L601.3,52.4 L603.4,50.8 Z" stroke="#1b2d55" stroke-width="0.5" fill="#1b2d55" stroke-linejoin="round" stroke-linecap="round"/>
<path d="M240,642 L274.1,625.9" stroke="#2a2a2a" stroke-width="0.9" fill="none"/>
<path d="M312.9,605.1 L335,591" stroke="#2a2a2a" stroke-width="0.9" fill="none"/>
<path d="M240,642 L244.4,638.5 L245.3,640.3 Z" stroke="#2a2a2a" stroke-width="0.4" fill="#2a2a2a" stroke-linejoin="round" stroke-linecap="round"/>
<path d="M335,591 L330.6,594.5 L329.7,592.7 Z" stroke="#2a2a2a" stroke-width="0.4" fill="#2a2a2a" stroke-linejoin="round" stroke-linecap="round"/>
<text x="293.5" y="615.5" font-size="10.5" fill="#2a2a2a" text-anchor="middle" transform="rotate(-29 293.5 615.5)" dominant-baseline="central">1250mm</text>
<path d="M335,591 L397.7,553.6" stroke="#2a2a2a" stroke-width="0.9" fill="none"/>
<path d="M435.7,531.4 L461.5,517.5" stroke="#2a2a2a" stroke-width="0.9" fill="none"/>
<path d="M335,591 L339.3,587.4 L340.3,589.1 Z" stroke="#2a2a2a" stroke-width="0.4" fill="#2a2a2a" stroke-linejoin="round" stroke-linecap="round"/>
<path d="M461.5,517.5 L457.2,521.1 L456.2,519.4 Z" stroke="#2a2a2a" stroke-width="0.4" fill="#2a2a2a" stroke-linejoin="round" stroke-linecap="round"/>
<text x="416.7" y="542.5" font-size="10.5" fill="#2a2a2a" text-anchor="middle" transform="rotate(-30 416.7 542.5)" dominant-baseline="central">1490mm</text>
<path d="M461.5,517.5 L588.5,443.6" stroke="#2a2a2a" stroke-width="0.9" fill="none"/>
<path d="M652.5,406.4 L733,360" stroke="#2a2a2a" stroke-width="0.9" fill="none"/>
<path d="M461.5,517.5 L465.8,513.9 L466.8,515.6 Z" stroke="#2a2a2a" stroke-width="0.4" fill="#2a2a2a" stroke-linejoin="round" stroke-linecap="round"/>
<path d="M733,360 L728.7,363.6 L727.7,361.9 Z" stroke="#2a2a2a" stroke-width="0.4" fill="#2a2a2a" stroke-linejoin="round" stroke-linecap="round"/>
<text x="620.5" y="425" font-size="10.5" fill="#2a2a2a" text-anchor="middle" transform="rotate(-30 620.5 425)" dominant-baseline="central">1600 / 2400mm</text>
<path d="M733,360 L757.9,345" stroke="#2a2a2a" stroke-width="0.9" fill="none"/>
<path d="M796.1,323 L811.5,314.8" stroke="#2a2a2a" stroke-width="0.9" fill="none"/>
<path d="M733,360 L737.3,356.4 L738.3,358.1 Z" stroke="#2a2a2a" stroke-width="0.4" fill="#2a2a2a" stroke-linejoin="round" stroke-linecap="round"/>
<path d="M811.5,314.8 L807.2,318.4 L806.2,316.7 Z" stroke="#2a2a2a" stroke-width="0.4" fill="#2a2a2a" stroke-linejoin="round" stroke-linecap="round"/>
<text x="777" y="334" font-size="10.5" fill="#2a2a2a" text-anchor="middle" transform="rotate(-30 777 334)" dominant-baseline="central">1000mm</text>
<path d="M240,570 L240,646" stroke="#2a2a2a" stroke-width="0.9" fill="none"/>
<path d="M335,564 L335,595" stroke="#2a2a2a" stroke-width="0.9" fill="none"/>
<path d="M461.5,460 L461.5,521" stroke="#2a2a2a" stroke-width="0.9" fill="none"/>
<path d="M733,284 L733,364" stroke="#2a2a2a" stroke-width="0.9" fill="none"/>
<path d="M811.5,236 L811.5,318" stroke="#2a2a2a" stroke-width="0.9" fill="none"/>
<path d="M709,56 L737.3,72.3" stroke="#2a2a2a" stroke-width="0.9" fill="none"/>
<path d="M775.7,93.7 L808.5,111.5" stroke="#2a2a2a" stroke-width="0.9" fill="none"/>
<path d="M709,56 L714.3,57.8 L713.3,59.6 Z" stroke="#2a2a2a" stroke-width="0.4" fill="#2a2a2a" stroke-linejoin="round" stroke-linecap="round"/>
<path d="M808.5,111.5 L803.2,109.7 L804.2,107.9 Z" stroke="#2a2a2a" stroke-width="0.4" fill="#2a2a2a" stroke-linejoin="round" stroke-linecap="round"/>
<text x="756.5" y="83" font-size="10.5" fill="#2a2a2a" text-anchor="middle" transform="rotate(29 756.5 83)" dominant-baseline="central">1050mm</text>
<path d="M709,52 L709,96" stroke="#2a2a2a" stroke-width="0.9" fill="none"/>
<path d="M808.5,108 L808.5,164" stroke="#2a2a2a" stroke-width="0.9" fill="none"/>
<path d="M812,165.5 L846,146" stroke="#2a2a2a" stroke-width="0.9" fill="none"/>
<path d="M812,230 L846,210.5" stroke="#2a2a2a" stroke-width="0.9" fill="none"/>
<path d="M841.5,150 L841.5,155" stroke="#2a2a2a" stroke-width="0.9" fill="none"/>
<path d="M841.5,196 L841.5,212" stroke="#2a2a2a" stroke-width="0.9" fill="none"/>
<path d="M841.5,149 L842.5,154.5 L840.5,154.5 Z" stroke="#2a2a2a" stroke-width="0.4" fill="#2a2a2a" stroke-linejoin="round" stroke-linecap="round"/>
<path d="M841.5,212.5 L840.5,207 L842.5,207 Z" stroke="#2a2a2a" stroke-width="0.4" fill="#2a2a2a" stroke-linejoin="round" stroke-linecap="round"/>
<text x="842" y="175.5" font-size="11" fill="#2a2a2a" text-anchor="middle" transform="rotate(-90 842 175.5)" dominant-baseline="central">950 mm</text>
</svg>
</body></html>
